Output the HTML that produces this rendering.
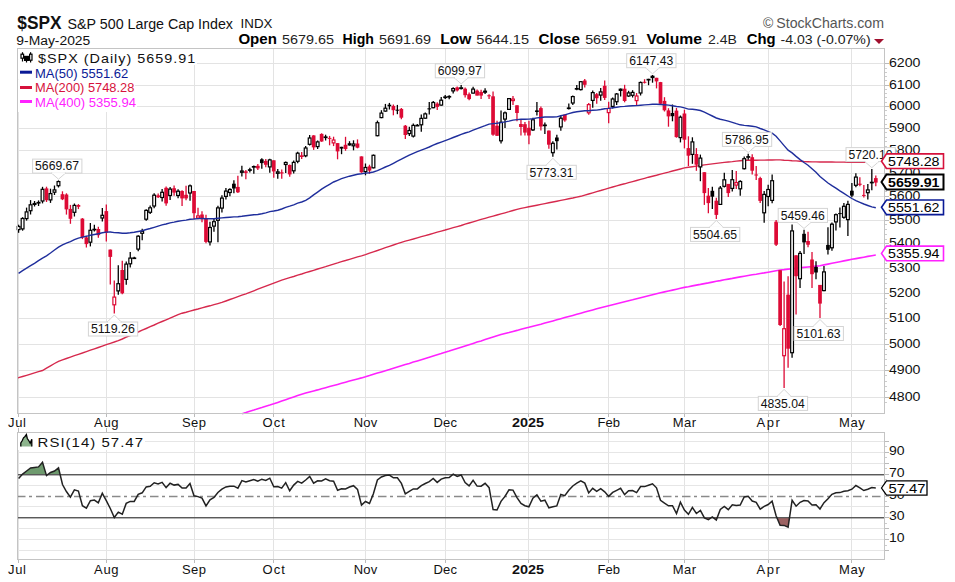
<!DOCTYPE html>
<html><head><meta charset="utf-8"><style>
html,body{margin:0;padding:0;background:#fff;width:955px;height:582px;overflow:hidden}
svg{position:absolute;left:0;top:0}
.ax{font-family:"Liberation Sans",sans-serif;font-size:13px;fill:#111}
.axb{font-family:"Liberation Sans",sans-serif;font-size:13px;font-weight:bold;fill:#111}
</style></head><body>
<svg width="955" height="582" viewBox="0 0 955 582">
<line x1="17" y1="397.5" x2="884" y2="397.5" stroke="#e3e3e3"/>
<line x1="884" y1="397.5" x2="889" y2="397.5" stroke="#bbb"/>
<text x="889" y="400.6" class="ax" font-size="12.3" textLength="31.5" lengthAdjust="spacingAndGlyphs">4800</text>
<line x1="17" y1="370.5" x2="884" y2="370.5" stroke="#e3e3e3"/>
<line x1="884" y1="370.5" x2="889" y2="370.5" stroke="#bbb"/>
<text x="889" y="373.6" class="ax" font-size="12.3" textLength="31.5" lengthAdjust="spacingAndGlyphs">4900</text>
<line x1="17" y1="344.5" x2="884" y2="344.5" stroke="#e3e3e3"/>
<line x1="884" y1="344.5" x2="889" y2="344.5" stroke="#bbb"/>
<text x="889" y="347.6" class="ax" font-size="12.3" textLength="31.5" lengthAdjust="spacingAndGlyphs">5000</text>
<line x1="17" y1="318.5" x2="884" y2="318.5" stroke="#e3e3e3"/>
<line x1="884" y1="318.5" x2="889" y2="318.5" stroke="#bbb"/>
<text x="889" y="321.6" class="ax" font-size="12.3" textLength="31.5" lengthAdjust="spacingAndGlyphs">5100</text>
<line x1="17" y1="293.5" x2="884" y2="293.5" stroke="#e3e3e3"/>
<line x1="884" y1="293.5" x2="889" y2="293.5" stroke="#bbb"/>
<text x="889" y="296.6" class="ax" font-size="12.3" textLength="31.5" lengthAdjust="spacingAndGlyphs">5200</text>
<line x1="17" y1="268.5" x2="884" y2="268.5" stroke="#e3e3e3"/>
<line x1="884" y1="268.5" x2="889" y2="268.5" stroke="#bbb"/>
<text x="889" y="271.6" class="ax" font-size="12.3" textLength="31.5" lengthAdjust="spacingAndGlyphs">5300</text>
<line x1="17" y1="243.5" x2="884" y2="243.5" stroke="#e3e3e3"/>
<line x1="884" y1="243.5" x2="889" y2="243.5" stroke="#bbb"/>
<text x="889" y="246.6" class="ax" font-size="12.3" textLength="31.5" lengthAdjust="spacingAndGlyphs">5400</text>
<line x1="17" y1="220.5" x2="884" y2="220.5" stroke="#e3e3e3"/>
<line x1="884" y1="220.5" x2="889" y2="220.5" stroke="#bbb"/>
<text x="889" y="223.6" class="ax" font-size="12.3" textLength="31.5" lengthAdjust="spacingAndGlyphs">5500</text>
<line x1="17" y1="196.5" x2="884" y2="196.5" stroke="#e3e3e3"/>
<line x1="884" y1="196.5" x2="889" y2="196.5" stroke="#bbb"/>
<text x="889" y="199.6" class="ax" font-size="12.3" textLength="31.5" lengthAdjust="spacingAndGlyphs">5600</text>
<line x1="17" y1="173.5" x2="884" y2="173.5" stroke="#e3e3e3"/>
<line x1="884" y1="173.5" x2="889" y2="173.5" stroke="#bbb"/>
<text x="889" y="176.6" class="ax" font-size="12.3" textLength="31.5" lengthAdjust="spacingAndGlyphs">5700</text>
<line x1="17" y1="150.5" x2="884" y2="150.5" stroke="#e3e3e3"/>
<line x1="884" y1="150.5" x2="889" y2="150.5" stroke="#bbb"/>
<text x="889" y="153.6" class="ax" font-size="12.3" textLength="31.5" lengthAdjust="spacingAndGlyphs">5800</text>
<line x1="17" y1="128.5" x2="884" y2="128.5" stroke="#e3e3e3"/>
<line x1="884" y1="128.5" x2="889" y2="128.5" stroke="#bbb"/>
<text x="889" y="131.6" class="ax" font-size="12.3" textLength="31.5" lengthAdjust="spacingAndGlyphs">5900</text>
<line x1="17" y1="106.5" x2="884" y2="106.5" stroke="#e3e3e3"/>
<line x1="884" y1="106.5" x2="889" y2="106.5" stroke="#bbb"/>
<text x="889" y="109.6" class="ax" font-size="12.3" textLength="31.5" lengthAdjust="spacingAndGlyphs">6000</text>
<line x1="17" y1="85.5" x2="884" y2="85.5" stroke="#e3e3e3"/>
<line x1="884" y1="85.5" x2="889" y2="85.5" stroke="#bbb"/>
<text x="889" y="88.6" class="ax" font-size="12.3" textLength="31.5" lengthAdjust="spacingAndGlyphs">6100</text>
<line x1="17" y1="63.5" x2="884" y2="63.5" stroke="#e3e3e3"/>
<line x1="884" y1="63.5" x2="889" y2="63.5" stroke="#bbb"/>
<text x="889" y="66.6" class="ax" font-size="12.3" textLength="31.5" lengthAdjust="spacingAndGlyphs">6200</text>
<line x1="884" y1="402.5" x2="887" y2="402.5" stroke="#ccc"/>
<line x1="884" y1="391.5" x2="887" y2="391.5" stroke="#ccc"/>
<line x1="884" y1="386.5" x2="887" y2="386.5" stroke="#ccc"/>
<line x1="884" y1="381.5" x2="887" y2="381.5" stroke="#ccc"/>
<line x1="884" y1="375.5" x2="887" y2="375.5" stroke="#ccc"/>
<line x1="884" y1="365.5" x2="887" y2="365.5" stroke="#ccc"/>
<line x1="884" y1="359.5" x2="887" y2="359.5" stroke="#ccc"/>
<line x1="884" y1="354.5" x2="887" y2="354.5" stroke="#ccc"/>
<line x1="884" y1="349.5" x2="887" y2="349.5" stroke="#ccc"/>
<line x1="884" y1="339.5" x2="887" y2="339.5" stroke="#ccc"/>
<line x1="884" y1="333.5" x2="887" y2="333.5" stroke="#ccc"/>
<line x1="884" y1="328.5" x2="887" y2="328.5" stroke="#ccc"/>
<line x1="884" y1="323.5" x2="887" y2="323.5" stroke="#ccc"/>
<line x1="884" y1="313.5" x2="887" y2="313.5" stroke="#ccc"/>
<line x1="884" y1="308.5" x2="887" y2="308.5" stroke="#ccc"/>
<line x1="884" y1="303.5" x2="887" y2="303.5" stroke="#ccc"/>
<line x1="884" y1="298.5" x2="887" y2="298.5" stroke="#ccc"/>
<line x1="884" y1="288.5" x2="887" y2="288.5" stroke="#ccc"/>
<line x1="884" y1="283.5" x2="887" y2="283.5" stroke="#ccc"/>
<line x1="884" y1="278.5" x2="887" y2="278.5" stroke="#ccc"/>
<line x1="884" y1="273.5" x2="887" y2="273.5" stroke="#ccc"/>
<line x1="884" y1="263.5" x2="887" y2="263.5" stroke="#ccc"/>
<line x1="884" y1="258.5" x2="887" y2="258.5" stroke="#ccc"/>
<line x1="884" y1="253.5" x2="887" y2="253.5" stroke="#ccc"/>
<line x1="884" y1="248.5" x2="887" y2="248.5" stroke="#ccc"/>
<line x1="884" y1="239.5" x2="887" y2="239.5" stroke="#ccc"/>
<line x1="884" y1="234.5" x2="887" y2="234.5" stroke="#ccc"/>
<line x1="884" y1="229.5" x2="887" y2="229.5" stroke="#ccc"/>
<line x1="884" y1="224.5" x2="887" y2="224.5" stroke="#ccc"/>
<line x1="884" y1="215.5" x2="887" y2="215.5" stroke="#ccc"/>
<line x1="884" y1="210.5" x2="887" y2="210.5" stroke="#ccc"/>
<line x1="884" y1="205.5" x2="887" y2="205.5" stroke="#ccc"/>
<line x1="884" y1="201.5" x2="887" y2="201.5" stroke="#ccc"/>
<line x1="884" y1="191.5" x2="887" y2="191.5" stroke="#ccc"/>
<line x1="884" y1="187.5" x2="887" y2="187.5" stroke="#ccc"/>
<line x1="884" y1="182.5" x2="887" y2="182.5" stroke="#ccc"/>
<line x1="884" y1="178.5" x2="887" y2="178.5" stroke="#ccc"/>
<line x1="884" y1="168.5" x2="887" y2="168.5" stroke="#ccc"/>
<line x1="884" y1="164.5" x2="887" y2="164.5" stroke="#ccc"/>
<line x1="884" y1="159.5" x2="887" y2="159.5" stroke="#ccc"/>
<line x1="884" y1="155.5" x2="887" y2="155.5" stroke="#ccc"/>
<line x1="884" y1="146.5" x2="887" y2="146.5" stroke="#ccc"/>
<line x1="884" y1="141.5" x2="887" y2="141.5" stroke="#ccc"/>
<line x1="884" y1="137.5" x2="887" y2="137.5" stroke="#ccc"/>
<line x1="884" y1="132.5" x2="887" y2="132.5" stroke="#ccc"/>
<line x1="884" y1="124.5" x2="887" y2="124.5" stroke="#ccc"/>
<line x1="884" y1="119.5" x2="887" y2="119.5" stroke="#ccc"/>
<line x1="884" y1="115.5" x2="887" y2="115.5" stroke="#ccc"/>
<line x1="884" y1="110.5" x2="887" y2="110.5" stroke="#ccc"/>
<line x1="884" y1="102.5" x2="887" y2="102.5" stroke="#ccc"/>
<line x1="884" y1="97.5" x2="887" y2="97.5" stroke="#ccc"/>
<line x1="884" y1="93.5" x2="887" y2="93.5" stroke="#ccc"/>
<line x1="884" y1="89.5" x2="887" y2="89.5" stroke="#ccc"/>
<line x1="884" y1="80.5" x2="887" y2="80.5" stroke="#ccc"/>
<line x1="884" y1="76.5" x2="887" y2="76.5" stroke="#ccc"/>
<line x1="884" y1="72.5" x2="887" y2="72.5" stroke="#ccc"/>
<line x1="884" y1="68.5" x2="887" y2="68.5" stroke="#ccc"/>
<line x1="18.5" y1="48" x2="18.5" y2="413" stroke="#e3e3e3"/>
<line x1="18.5" y1="413" x2="18.5" y2="417" stroke="#bbb"/>
<line x1="18.5" y1="559" x2="18.5" y2="563" stroke="#bbb"/>
<line x1="18.5" y1="428" x2="18.5" y2="432" stroke="#bbb"/>
<text x="8.1" y="427.3" class="ax" font-size="11.8" textLength="17.8" lengthAdjust="spacing">Jul</text>
<text x="8.1" y="573.8" class="ax" font-size="11.8" textLength="17.8" lengthAdjust="spacing">Jul</text>
<line x1="18.5" y1="432" x2="18.5" y2="559" stroke="#e3e3e3"/>
<line x1="106.5" y1="48" x2="106.5" y2="413" stroke="#e3e3e3"/>
<line x1="106.5" y1="413" x2="106.5" y2="417" stroke="#bbb"/>
<line x1="106.5" y1="559" x2="106.5" y2="563" stroke="#bbb"/>
<line x1="106.5" y1="428" x2="106.5" y2="432" stroke="#bbb"/>
<text x="94.0" y="427.3" class="ax" font-size="11.8" textLength="24.6" lengthAdjust="spacing">Aug</text>
<text x="94.0" y="573.8" class="ax" font-size="11.8" textLength="24.6" lengthAdjust="spacing">Aug</text>
<line x1="106.5" y1="432" x2="106.5" y2="559" stroke="#e3e3e3"/>
<line x1="194.5" y1="48" x2="194.5" y2="413" stroke="#e3e3e3"/>
<line x1="194.5" y1="413" x2="194.5" y2="417" stroke="#bbb"/>
<line x1="194.5" y1="559" x2="194.5" y2="563" stroke="#bbb"/>
<line x1="194.5" y1="428" x2="194.5" y2="432" stroke="#bbb"/>
<text x="182.1" y="427.3" class="ax" font-size="11.8" textLength="23.8" lengthAdjust="spacing">Sep</text>
<text x="182.1" y="573.8" class="ax" font-size="11.8" textLength="23.8" lengthAdjust="spacing">Sep</text>
<line x1="194.5" y1="432" x2="194.5" y2="559" stroke="#e3e3e3"/>
<line x1="273.5" y1="48" x2="273.5" y2="413" stroke="#e3e3e3"/>
<line x1="273.5" y1="413" x2="273.5" y2="417" stroke="#bbb"/>
<line x1="273.5" y1="559" x2="273.5" y2="563" stroke="#bbb"/>
<line x1="273.5" y1="428" x2="273.5" y2="432" stroke="#bbb"/>
<text x="262.6" y="427.3" class="ax" font-size="11.8" textLength="22.3" lengthAdjust="spacing">Oct</text>
<text x="262.6" y="573.8" class="ax" font-size="11.8" textLength="22.3" lengthAdjust="spacing">Oct</text>
<line x1="273.5" y1="432" x2="273.5" y2="559" stroke="#e3e3e3"/>
<line x1="365.5" y1="48" x2="365.5" y2="413" stroke="#e3e3e3"/>
<line x1="365.5" y1="413" x2="365.5" y2="417" stroke="#bbb"/>
<line x1="365.5" y1="559" x2="365.5" y2="563" stroke="#bbb"/>
<line x1="365.5" y1="428" x2="365.5" y2="432" stroke="#bbb"/>
<text x="353.7" y="427.3" class="ax" font-size="11.8" textLength="23.5" lengthAdjust="spacing">Nov</text>
<text x="353.7" y="573.8" class="ax" font-size="11.8" textLength="23.5" lengthAdjust="spacing">Nov</text>
<line x1="365.5" y1="432" x2="365.5" y2="559" stroke="#e3e3e3"/>
<line x1="445.5" y1="48" x2="445.5" y2="413" stroke="#e3e3e3"/>
<line x1="445.5" y1="413" x2="445.5" y2="417" stroke="#bbb"/>
<line x1="445.5" y1="559" x2="445.5" y2="563" stroke="#bbb"/>
<line x1="445.5" y1="428" x2="445.5" y2="432" stroke="#bbb"/>
<text x="433.6" y="427.3" class="ax" font-size="11.8" textLength="23.3" lengthAdjust="spacing">Dec</text>
<text x="433.6" y="573.8" class="ax" font-size="11.8" textLength="23.3" lengthAdjust="spacing">Dec</text>
<line x1="445.5" y1="432" x2="445.5" y2="559" stroke="#e3e3e3"/>
<line x1="528.5" y1="48" x2="528.5" y2="413" stroke="#e3e3e3"/>
<line x1="528.5" y1="413" x2="528.5" y2="417" stroke="#bbb"/>
<line x1="528.5" y1="559" x2="528.5" y2="563" stroke="#bbb"/>
<line x1="528.5" y1="428" x2="528.5" y2="432" stroke="#bbb"/>
<text x="511.9" y="427.3" class="axb" font-size="14.3" textLength="32.1" lengthAdjust="spacingAndGlyphs">2025</text>
<text x="511.9" y="573.8" class="axb" font-size="14.3" textLength="32.1" lengthAdjust="spacingAndGlyphs">2025</text>
<line x1="528.5" y1="432" x2="528.5" y2="559" stroke="#e3e3e3"/>
<line x1="608.5" y1="48" x2="608.5" y2="413" stroke="#e3e3e3"/>
<line x1="608.5" y1="413" x2="608.5" y2="417" stroke="#bbb"/>
<line x1="608.5" y1="559" x2="608.5" y2="563" stroke="#bbb"/>
<line x1="608.5" y1="428" x2="608.5" y2="432" stroke="#bbb"/>
<text x="597.4" y="427.3" class="ax" font-size="11.8" textLength="22.5" lengthAdjust="spacing">Feb</text>
<text x="597.4" y="573.8" class="ax" font-size="11.8" textLength="22.5" lengthAdjust="spacing">Feb</text>
<line x1="608.5" y1="432" x2="608.5" y2="559" stroke="#e3e3e3"/>
<line x1="684.5" y1="48" x2="684.5" y2="413" stroke="#e3e3e3"/>
<line x1="684.5" y1="413" x2="684.5" y2="417" stroke="#bbb"/>
<line x1="684.5" y1="559" x2="684.5" y2="563" stroke="#bbb"/>
<line x1="684.5" y1="428" x2="684.5" y2="432" stroke="#bbb"/>
<text x="672.7" y="427.3" class="ax" font-size="11.8" textLength="23.5" lengthAdjust="spacing">Mar</text>
<text x="672.7" y="573.8" class="ax" font-size="11.8" textLength="23.5" lengthAdjust="spacing">Mar</text>
<line x1="684.5" y1="432" x2="684.5" y2="559" stroke="#e3e3e3"/>
<line x1="768.5" y1="48" x2="768.5" y2="413" stroke="#e3e3e3"/>
<line x1="768.5" y1="413" x2="768.5" y2="417" stroke="#bbb"/>
<line x1="768.5" y1="559" x2="768.5" y2="563" stroke="#bbb"/>
<line x1="768.5" y1="428" x2="768.5" y2="432" stroke="#bbb"/>
<text x="756.4" y="427.3" class="ax" font-size="11.8" textLength="23.5" lengthAdjust="spacing">Apr</text>
<text x="756.4" y="573.8" class="ax" font-size="11.8" textLength="23.5" lengthAdjust="spacing">Apr</text>
<line x1="768.5" y1="432" x2="768.5" y2="559" stroke="#e3e3e3"/>
<line x1="851.5" y1="48" x2="851.5" y2="413" stroke="#e3e3e3"/>
<line x1="851.5" y1="413" x2="851.5" y2="417" stroke="#bbb"/>
<line x1="851.5" y1="559" x2="851.5" y2="563" stroke="#bbb"/>
<line x1="851.5" y1="428" x2="851.5" y2="432" stroke="#bbb"/>
<text x="839.0" y="427.3" class="ax" font-size="11.8" textLength="25.7" lengthAdjust="spacing">May</text>
<text x="839.0" y="573.8" class="ax" font-size="11.8" textLength="25.7" lengthAdjust="spacing">May</text>
<line x1="851.5" y1="432" x2="851.5" y2="559" stroke="#e3e3e3"/>
<line x1="17" y1="550.5" x2="884" y2="550.5" stroke="#e6e6e6"/>
<line x1="884" y1="550.5" x2="889" y2="550.5" stroke="#bbb"/>
<line x1="17" y1="539.5" x2="884" y2="539.5" stroke="#e6e6e6"/>
<line x1="884" y1="539.5" x2="889" y2="539.5" stroke="#bbb"/>
<line x1="17" y1="528.5" x2="884" y2="528.5" stroke="#e6e6e6"/>
<line x1="884" y1="528.5" x2="889" y2="528.5" stroke="#bbb"/>
<line x1="17" y1="517.5" x2="884" y2="517.5" stroke="#5a5a5a" stroke-width="1.25"/>
<line x1="884" y1="517.5" x2="889" y2="517.5" stroke="#bbb"/>
<line x1="17" y1="506.5" x2="884" y2="506.5" stroke="#e6e6e6"/>
<line x1="884" y1="506.5" x2="889" y2="506.5" stroke="#bbb"/>
<line x1="17" y1="496.5" x2="884" y2="496.5" stroke="#8a8a8a" stroke-width="1.5" stroke-dasharray="8.5,3.5,3,4"/>
<line x1="884" y1="496.5" x2="889" y2="496.5" stroke="#bbb"/>
<line x1="17" y1="485.5" x2="884" y2="485.5" stroke="#e6e6e6"/>
<line x1="884" y1="485.5" x2="889" y2="485.5" stroke="#bbb"/>
<line x1="17" y1="474.5" x2="884" y2="474.5" stroke="#5a5a5a" stroke-width="1.25"/>
<line x1="884" y1="474.5" x2="889" y2="474.5" stroke="#bbb"/>
<line x1="17" y1="463.5" x2="884" y2="463.5" stroke="#e6e6e6"/>
<line x1="884" y1="463.5" x2="889" y2="463.5" stroke="#bbb"/>
<line x1="17" y1="452.5" x2="884" y2="452.5" stroke="#e6e6e6"/>
<line x1="884" y1="452.5" x2="889" y2="452.5" stroke="#bbb"/>
<line x1="17" y1="441.5" x2="884" y2="441.5" stroke="#e6e6e6"/>
<line x1="884" y1="441.5" x2="889" y2="441.5" stroke="#bbb"/>
<line x1="884" y1="545.5" x2="887" y2="545.5" stroke="#ccc"/>
<line x1="884" y1="534.5" x2="887" y2="534.5" stroke="#ccc"/>
<line x1="884" y1="523.5" x2="887" y2="523.5" stroke="#ccc"/>
<line x1="884" y1="512.5" x2="887" y2="512.5" stroke="#ccc"/>
<line x1="884" y1="501.5" x2="887" y2="501.5" stroke="#ccc"/>
<line x1="884" y1="490.5" x2="887" y2="490.5" stroke="#ccc"/>
<line x1="884" y1="479.5" x2="887" y2="479.5" stroke="#ccc"/>
<line x1="884" y1="468.5" x2="887" y2="468.5" stroke="#ccc"/>
<line x1="884" y1="457.5" x2="887" y2="457.5" stroke="#ccc"/>
<line x1="884" y1="446.5" x2="887" y2="446.5" stroke="#ccc"/>
<text x="889" y="455.1" class="ax" font-size="12.3" textLength="15.6" lengthAdjust="spacingAndGlyphs">90</text>
<text x="889" y="477.1" class="ax" font-size="12.3" textLength="15.6" lengthAdjust="spacingAndGlyphs">70</text>
<text x="889" y="520.1" class="ax" font-size="12.3" textLength="15.6" lengthAdjust="spacingAndGlyphs">30</text>
<text x="889" y="542.1" class="ax" font-size="12.3" textLength="15.6" lengthAdjust="spacingAndGlyphs">10</text>
<text x="889" y="499.1" class="ax" font-size="12.3" textLength="15.6" lengthAdjust="spacingAndGlyphs">50</text>
<polyline points="242.2,413.7 245.9,412.6 249.8,411.3 253.8,410.1 257.8,408.8 261.8,407.6 265.8,406.3 269.8,405.1 273.8,403.8 277.8,402.4 281.7,401.1 285.7,399.7 289.7,398.3 293.7,396.9 297.7,395.5 301.7,394.2 305.7,393.1 309.7,392.0 313.6,390.9 317.6,389.9 321.6,388.8 325.6,387.7 329.6,386.6 333.6,385.5 337.6,384.4 341.5,383.3 345.5,382.2 349.5,381.1 353.5,380.0 357.5,378.9 361.5,377.9 365.5,376.8 369.5,375.6 373.4,374.3 377.4,373.1 381.4,371.9 385.4,370.7 389.4,369.5 393.4,368.2 397.4,367.0 401.4,365.8 405.3,364.6 409.3,363.4 413.3,362.1 417.3,360.9 421.3,359.7 425.3,358.5 429.3,357.3 433.2,356.1 437.2,354.8 441.2,353.6 445.2,352.3 449.2,351.1 453.2,349.8 457.2,348.5 461.2,347.2 465.1,346.0 469.1,344.7 473.1,343.4 477.1,342.1 481.1,340.9 485.1,339.6 489.1,338.3 493.1,337.0 497.0,335.7 501.0,334.5 505.0,333.5 509.0,332.5 513.0,331.4 517.0,330.4 521.0,329.3 524.9,328.3 528.9,327.3 532.9,326.2 536.9,325.2 540.9,324.2 544.9,323.1 548.9,322.0 552.9,320.9 556.8,319.8 560.8,318.7 564.8,317.6 568.8,316.5 572.8,315.4 576.8,314.3 580.8,313.2 584.8,312.1 588.7,311.0 592.7,309.9 596.7,308.8 600.7,307.7 604.7,306.7 608.7,305.7 612.7,304.7 616.7,303.7 620.6,302.7 624.6,301.7 628.6,300.7 632.6,299.8 636.6,298.8 640.6,297.8 644.6,296.8 648.5,295.8 652.5,294.8 656.5,293.8 660.5,292.8 664.5,291.9 668.5,291.0 672.5,290.1 676.5,289.2 680.4,288.3 684.4,287.4 688.4,286.7 692.4,285.9 696.4,285.1 700.4,284.4 704.4,283.6 708.4,282.9 712.3,282.1 716.3,281.3 720.3,280.6 724.3,279.8 728.3,279.1 732.3,278.4 736.3,277.6 740.2,276.9 744.2,276.2 748.2,275.5 752.2,274.8 756.2,274.2 760.2,273.5 764.2,272.9 768.2,272.2 772.1,271.5 776.1,270.7 780.1,270.0 784.1,269.6 788.1,269.1 792.1,268.7 796.1,268.3 800.1,267.8 804.0,267.4 808.0,267.0 812.0,266.6 816.0,266.1 820.0,265.7 824.0,264.9 828.0,264.1 831.9,263.3 835.9,262.5 839.9,261.7 843.9,260.9 847.9,260.1 851.9,259.3 855.9,258.6 859.9,257.9 863.8,257.2 867.8,256.4 871.8,255.7 875.8,255.0" fill="none" stroke="#ff22ff" stroke-width="1.6"/>
<polyline points="17.5,378.0 18.6,377.7 22.6,376.5 26.6,375.3 30.6,374.1 34.5,372.9 38.5,371.7 42.5,370.5 46.5,368.2 50.5,365.9 54.5,363.5 58.5,361.3 62.5,359.9 66.4,358.5 70.4,357.1 74.4,355.7 78.4,354.3 82.4,353.0 86.4,351.6 90.4,350.2 94.4,348.8 98.3,347.5 102.3,346.1 106.3,344.7 110.3,343.3 114.3,342.0 118.3,340.6 122.3,339.0 126.2,337.2 130.2,335.5 134.2,333.7 138.2,332.0 142.2,330.2 146.2,328.5 150.2,326.7 154.2,325.0 158.1,323.2 162.1,321.5 166.1,319.8 170.1,318.1 174.1,316.3 178.1,314.6 182.1,313.2 186.1,312.2 190.0,311.1 194.0,310.0 198.0,309.0 202.0,307.9 206.0,306.8 210.0,305.8 214.0,304.7 217.9,303.6 221.9,302.4 225.9,301.0 229.9,299.5 233.9,298.1 237.9,296.7 241.9,295.2 245.9,293.8 249.8,292.3 253.8,290.8 257.8,289.2 261.8,287.7 265.8,286.2 269.8,284.6 273.8,283.1 277.8,281.6 281.7,280.2 285.7,278.9 289.7,277.7 293.7,276.5 297.7,275.2 301.7,274.0 305.7,272.7 309.7,271.5 313.6,270.3 317.6,269.0 321.6,267.8 325.6,266.6 329.6,265.3 333.6,264.1 337.6,262.9 341.5,261.6 345.5,260.5 349.5,259.3 353.5,258.1 357.5,256.9 361.5,255.8 365.5,254.6 369.5,253.2 373.4,251.8 377.4,250.5 381.4,249.1 385.4,247.7 389.4,246.3 393.4,245.0 397.4,243.6 401.4,242.3 405.3,241.2 409.3,240.1 413.3,239.0 417.3,237.8 421.3,236.7 425.3,235.6 429.3,234.5 433.2,233.3 437.2,232.2 441.2,231.1 445.2,230.0 449.2,228.8 453.2,227.7 457.2,226.6 461.2,225.5 465.1,224.2 469.1,223.0 473.1,221.8 477.1,220.6 481.1,219.4 485.1,218.3 489.1,217.2 493.1,216.1 497.0,215.0 501.0,213.9 505.0,212.8 509.0,211.7 513.0,210.5 517.0,209.4 521.0,208.4 524.9,207.6 528.9,206.8 532.9,206.0 536.9,205.2 540.9,204.4 544.9,203.6 548.9,202.8 552.9,202.0 556.8,201.2 560.8,200.4 564.8,199.6 568.8,198.8 572.8,198.0 576.8,197.1 580.8,196.3 584.8,195.1 588.7,194.0 592.7,192.8 596.7,191.6 600.7,190.5 604.7,189.3 608.7,188.1 612.7,187.0 616.7,185.9 620.6,184.8 624.6,183.8 628.6,182.7 632.6,181.6 636.6,180.5 640.6,179.4 644.6,178.3 648.5,177.2 652.5,176.2 656.5,175.2 660.5,174.1 664.5,173.1 668.5,172.1 672.5,171.0 676.5,170.0 680.4,169.0 684.4,167.9 688.4,167.3 692.4,166.7 696.4,166.1 700.4,165.5 704.4,164.9 708.4,164.4 712.3,163.9 716.3,163.4 720.3,162.9 724.3,162.4 728.3,162.0 732.3,161.6 736.3,161.1 740.2,160.7 744.2,160.3 748.2,160.3 752.2,160.2 756.2,160.2 760.2,160.1 764.2,160.1 768.2,160.0 772.1,160.0 776.1,159.9 780.1,159.9 784.1,160.2 788.1,160.4 792.1,160.7 796.1,160.9 800.1,161.2 804.0,161.5 808.0,161.7 812.0,161.9 816.0,161.9 820.0,162.0 824.0,162.0 828.0,162.0 831.9,162.0 835.9,162.1 839.9,162.1 843.9,162.1 847.9,162.2 851.9,162.2 855.9,162.2 859.9,162.2 863.8,162.3 867.8,162.3 871.8,162.4 875.8,162.5" fill="none" stroke="#d6294d" stroke-width="1.4"/>
<line x1="18.60" y1="224.7" x2="18.60" y2="232.8" stroke="#000" stroke-width="1.3"/>
<rect x="17.20" y="226.5" width="2.8" height="3.1" fill="#fff" stroke="#000" stroke-width="1.2"/>
<line x1="22.59" y1="217.2" x2="22.59" y2="230.7" stroke="#000" stroke-width="1.3"/>
<rect x="21.19" y="218.5" width="2.8" height="10.4" fill="#fff" stroke="#000" stroke-width="1.2"/>
<line x1="26.57" y1="207.6" x2="26.57" y2="220.6" stroke="#000" stroke-width="1.3"/>
<rect x="25.17" y="211.9" width="2.8" height="6.7" fill="#fff" stroke="#000" stroke-width="1.2"/>
<line x1="30.56" y1="200.1" x2="30.56" y2="214.5" stroke="#000" stroke-width="1.3"/>
<rect x="29.16" y="204.8" width="2.8" height="5.9" fill="#fff" stroke="#000" stroke-width="1.2"/>
<line x1="34.55" y1="201.0" x2="34.55" y2="206.5" stroke="#000" stroke-width="1.3"/>
<rect x="33.15" y="203.5" width="2.8" height="0.9" fill="#fff" stroke="#000" stroke-width="1.2"/>
<line x1="38.54" y1="200.4" x2="38.54" y2="206.0" stroke="#000" stroke-width="1.3"/>
<rect x="37.14" y="202.5" width="2.8" height="0.5" fill="#fff" stroke="#000" stroke-width="1.2"/>
<line x1="42.52" y1="186.8" x2="42.52" y2="203.4" stroke="#000" stroke-width="1.3"/>
<rect x="41.12" y="189.3" width="2.8" height="11.7" fill="#fff" stroke="#000" stroke-width="1.2"/>
<line x1="46.51" y1="186.7" x2="46.51" y2="202.0" stroke="#dd0a35" stroke-width="1.3"/>
<rect x="44.66" y="188.4" width="3.7" height="11.8" fill="#dd0a35"/>
<line x1="50.50" y1="188.7" x2="50.50" y2="202.9" stroke="#000" stroke-width="1.3"/>
<rect x="49.10" y="193.6" width="2.8" height="6.3" fill="#fff" stroke="#000" stroke-width="1.2"/>
<line x1="54.48" y1="185.5" x2="54.48" y2="195.0" stroke="#000" stroke-width="1.3"/>
<rect x="53.08" y="189.9" width="2.8" height="2.3" fill="#fff" stroke="#000" stroke-width="1.2"/>
<line x1="58.47" y1="180.4" x2="58.47" y2="187.5" stroke="#000" stroke-width="1.3"/>
<rect x="57.07" y="181.6" width="2.8" height="4.1" fill="#fff" stroke="#000" stroke-width="1.2"/>
<line x1="62.46" y1="191.3" x2="62.46" y2="200.1" stroke="#dd0a35" stroke-width="1.3"/>
<rect x="60.61" y="194.2" width="3.7" height="5.1" fill="#dd0a35"/>
<line x1="66.44" y1="193.3" x2="66.44" y2="214.6" stroke="#dd0a35" stroke-width="1.3"/>
<rect x="64.59" y="194.5" width="3.7" height="14.9" fill="#dd0a35"/>
<line x1="70.43" y1="204.9" x2="70.43" y2="223.8" stroke="#dd0a35" stroke-width="1.3"/>
<rect x="68.58" y="208.9" width="3.7" height="9.9" fill="#dd0a35"/>
<line x1="74.42" y1="203.5" x2="74.42" y2="216.5" stroke="#000" stroke-width="1.3"/>
<rect x="73.02" y="205.4" width="2.8" height="6.9" fill="#fff" stroke="#000" stroke-width="1.2"/>
<line x1="78.41" y1="204.1" x2="78.41" y2="209.1" stroke="#dd0a35" stroke-width="1.3"/>
<rect x="76.56" y="205.0" width="3.7" height="1.8" fill="#dd0a35"/>
<line x1="82.39" y1="218.1" x2="82.39" y2="239.1" stroke="#dd0a35" stroke-width="1.3"/>
<rect x="80.54" y="218.6" width="3.7" height="18.8" fill="#dd0a35"/>
<line x1="86.38" y1="235.7" x2="86.38" y2="247.5" stroke="#dd0a35" stroke-width="1.3"/>
<rect x="84.53" y="237.4" width="3.7" height="6.7" fill="#dd0a35"/>
<line x1="90.37" y1="223.0" x2="90.37" y2="246.4" stroke="#000" stroke-width="1.3"/>
<rect x="88.97" y="230.3" width="2.8" height="11.9" fill="#fff" stroke="#000" stroke-width="1.2"/>
<line x1="94.35" y1="224.7" x2="94.35" y2="231.5" stroke="#000" stroke-width="1.3"/>
<rect x="92.95" y="229.3" width="2.8" height="0.5" fill="#fff" stroke="#000" stroke-width="1.2"/>
<line x1="98.34" y1="226.8" x2="98.34" y2="237.7" stroke="#dd0a35" stroke-width="1.3"/>
<rect x="96.49" y="229.0" width="3.7" height="6.2" fill="#dd0a35"/>
<line x1="102.33" y1="207.9" x2="102.33" y2="221.5" stroke="#000" stroke-width="1.3"/>
<rect x="100.93" y="215.3" width="2.8" height="2.7" fill="#fff" stroke="#000" stroke-width="1.2"/>
<line x1="106.31" y1="204.4" x2="106.31" y2="241.4" stroke="#dd0a35" stroke-width="1.3"/>
<rect x="104.46" y="211.1" width="3.7" height="21.6" fill="#dd0a35"/>
<line x1="110.30" y1="249.6" x2="110.30" y2="284.5" stroke="#dd0a35" stroke-width="1.3"/>
<rect x="108.45" y="249.6" width="3.7" height="7.3" fill="#dd0a35"/>
<line x1="114.29" y1="280.4" x2="114.29" y2="313.5" stroke="#dd0a35" stroke-width="1.3"/>
<rect x="112.89" y="297.1" width="2.8" height="7.7" fill="#fff" stroke="#dd0a35" stroke-width="1.2"/>
<line x1="118.28" y1="265.3" x2="118.28" y2="294.7" stroke="#000" stroke-width="1.3"/>
<rect x="116.88" y="283.7" width="2.8" height="7.2" fill="#fff" stroke="#000" stroke-width="1.2"/>
<line x1="122.26" y1="260.8" x2="122.26" y2="294.2" stroke="#dd0a35" stroke-width="1.3"/>
<rect x="120.41" y="270.0" width="3.7" height="23.3" fill="#dd0a35"/>
<line x1="126.25" y1="261.4" x2="126.25" y2="284.7" stroke="#000" stroke-width="1.3"/>
<rect x="124.85" y="264.1" width="2.8" height="15.3" fill="#fff" stroke="#000" stroke-width="1.2"/>
<line x1="130.24" y1="252.1" x2="130.24" y2="267.6" stroke="#000" stroke-width="1.3"/>
<rect x="128.84" y="258.1" width="2.8" height="5.7" fill="#fff" stroke="#000" stroke-width="1.2"/>
<line x1="134.22" y1="256.7" x2="134.22" y2="259.0" stroke="#000" stroke-width="1.3"/>
<rect x="132.82" y="258.0" width="2.8" height="0.5" fill="#fff" stroke="#000" stroke-width="1.2"/>
<line x1="138.21" y1="235.3" x2="138.21" y2="251.2" stroke="#000" stroke-width="1.3"/>
<rect x="136.81" y="236.2" width="2.8" height="12.9" fill="#fff" stroke="#000" stroke-width="1.2"/>
<line x1="142.20" y1="228.8" x2="142.20" y2="240.3" stroke="#000" stroke-width="1.3"/>
<rect x="140.80" y="231.3" width="2.8" height="2.0" fill="#fff" stroke="#000" stroke-width="1.2"/>
<line x1="146.18" y1="209.2" x2="146.18" y2="220.7" stroke="#000" stroke-width="1.3"/>
<rect x="144.78" y="210.4" width="2.8" height="8.8" fill="#fff" stroke="#000" stroke-width="1.2"/>
<line x1="150.17" y1="205.6" x2="150.17" y2="214.1" stroke="#000" stroke-width="1.3"/>
<rect x="148.77" y="207.8" width="2.8" height="4.5" fill="#fff" stroke="#000" stroke-width="1.2"/>
<line x1="154.16" y1="193.3" x2="154.16" y2="208.2" stroke="#000" stroke-width="1.3"/>
<rect x="152.76" y="195.2" width="2.8" height="10.8" fill="#fff" stroke="#000" stroke-width="1.2"/>
<line x1="158.15" y1="193.6" x2="158.15" y2="198.1" stroke="#dd0a35" stroke-width="1.3"/>
<rect x="156.30" y="195.4" width="3.7" height="1.8" fill="#dd0a35"/>
<line x1="162.13" y1="189.1" x2="162.13" y2="201.4" stroke="#000" stroke-width="1.3"/>
<rect x="160.73" y="192.3" width="2.8" height="5.2" fill="#fff" stroke="#000" stroke-width="1.2"/>
<line x1="166.12" y1="186.5" x2="166.12" y2="205.7" stroke="#dd0a35" stroke-width="1.3"/>
<rect x="164.27" y="187.8" width="3.7" height="15.6" fill="#dd0a35"/>
<line x1="170.11" y1="187.0" x2="170.11" y2="200.0" stroke="#000" stroke-width="1.3"/>
<rect x="168.71" y="189.1" width="2.8" height="6.4" fill="#fff" stroke="#000" stroke-width="1.2"/>
<line x1="174.09" y1="185.5" x2="174.09" y2="195.8" stroke="#dd0a35" stroke-width="1.3"/>
<rect x="172.24" y="188.2" width="3.7" height="4.4" fill="#dd0a35"/>
<line x1="178.08" y1="189.3" x2="178.08" y2="198.2" stroke="#000" stroke-width="1.3"/>
<rect x="176.68" y="191.2" width="2.8" height="4.3" fill="#fff" stroke="#000" stroke-width="1.2"/>
<line x1="182.07" y1="190.3" x2="182.07" y2="205.9" stroke="#dd0a35" stroke-width="1.3"/>
<rect x="180.22" y="191.0" width="3.7" height="7.4" fill="#dd0a35"/>
<line x1="186.05" y1="185.7" x2="186.05" y2="200.3" stroke="#dd0a35" stroke-width="1.3"/>
<rect x="184.20" y="194.8" width="3.7" height="3.6" fill="#dd0a35"/>
<line x1="190.04" y1="184.6" x2="190.04" y2="200.8" stroke="#000" stroke-width="1.3"/>
<rect x="188.64" y="185.9" width="2.8" height="7.1" fill="#fff" stroke="#000" stroke-width="1.2"/>
<line x1="194.03" y1="191.0" x2="194.03" y2="219.0" stroke="#dd0a35" stroke-width="1.3"/>
<rect x="192.18" y="191.0" width="3.7" height="22.2" fill="#dd0a35"/>
<line x1="198.01" y1="207.8" x2="198.01" y2="219.3" stroke="#dd0a35" stroke-width="1.3"/>
<rect x="196.61" y="215.9" width="2.8" height="2.1" fill="#fff" stroke="#dd0a35" stroke-width="1.2"/>
<line x1="202.00" y1="211.3" x2="202.00" y2="222.3" stroke="#dd0a35" stroke-width="1.3"/>
<rect x="200.15" y="214.5" width="3.7" height="4.7" fill="#dd0a35"/>
<line x1="205.99" y1="214.7" x2="205.99" y2="243.3" stroke="#dd0a35" stroke-width="1.3"/>
<rect x="204.14" y="218.3" width="3.7" height="23.6" fill="#dd0a35"/>
<line x1="209.98" y1="221.7" x2="209.98" y2="245.4" stroke="#000" stroke-width="1.3"/>
<rect x="208.58" y="227.5" width="2.8" height="14.4" fill="#fff" stroke="#000" stroke-width="1.2"/>
<line x1="213.96" y1="218.0" x2="213.96" y2="231.8" stroke="#000" stroke-width="1.3"/>
<rect x="212.56" y="221.7" width="2.8" height="4.4" fill="#fff" stroke="#000" stroke-width="1.2"/>
<line x1="217.95" y1="205.8" x2="217.95" y2="242.3" stroke="#000" stroke-width="1.3"/>
<rect x="216.55" y="207.9" width="2.8" height="12.4" fill="#fff" stroke="#000" stroke-width="1.2"/>
<line x1="221.94" y1="195.2" x2="221.94" y2="212.5" stroke="#000" stroke-width="1.3"/>
<rect x="220.54" y="198.1" width="2.8" height="10.0" fill="#fff" stroke="#000" stroke-width="1.2"/>
<line x1="225.92" y1="187.9" x2="225.92" y2="199.6" stroke="#000" stroke-width="1.3"/>
<rect x="224.52" y="191.1" width="2.8" height="5.3" fill="#fff" stroke="#000" stroke-width="1.2"/>
<line x1="229.91" y1="188.2" x2="229.91" y2="196.3" stroke="#000" stroke-width="1.3"/>
<rect x="228.51" y="189.5" width="2.8" height="3.0" fill="#fff" stroke="#000" stroke-width="1.2"/>
<line x1="233.90" y1="180.2" x2="233.90" y2="193.3" stroke="#000" stroke-width="1.3"/>
<rect x="232.05" y="183.7" width="3.7" height="4.8" fill="#000"/>
<line x1="237.88" y1="175.8" x2="237.88" y2="193.0" stroke="#dd0a35" stroke-width="1.3"/>
<rect x="236.03" y="186.9" width="3.7" height="5.4" fill="#dd0a35"/>
<line x1="241.87" y1="165.8" x2="241.87" y2="176.6" stroke="#000" stroke-width="1.3"/>
<rect x="240.47" y="171.0" width="2.8" height="1.3" fill="#fff" stroke="#000" stroke-width="1.2"/>
<line x1="245.86" y1="170.0" x2="245.86" y2="179.3" stroke="#dd0a35" stroke-width="1.3"/>
<rect x="244.01" y="171.3" width="3.7" height="1.6" fill="#dd0a35"/>
<line x1="249.85" y1="167.7" x2="249.85" y2="172.5" stroke="#000" stroke-width="1.3"/>
<rect x="248.45" y="169.8" width="2.8" height="0.5" fill="#fff" stroke="#000" stroke-width="1.2"/>
<line x1="253.83" y1="165.4" x2="253.83" y2="173.7" stroke="#000" stroke-width="1.3"/>
<rect x="252.43" y="166.6" width="2.8" height="0.5" fill="#fff" stroke="#000" stroke-width="1.2"/>
<line x1="257.82" y1="164.1" x2="257.82" y2="170.0" stroke="#dd0a35" stroke-width="1.3"/>
<rect x="255.97" y="165.8" width="3.7" height="2.6" fill="#dd0a35"/>
<line x1="261.81" y1="158.2" x2="261.81" y2="168.7" stroke="#000" stroke-width="1.3"/>
<rect x="259.96" y="159.3" width="3.7" height="3.8" fill="#000"/>
<line x1="265.79" y1="159.0" x2="265.79" y2="167.2" stroke="#dd0a35" stroke-width="1.3"/>
<rect x="263.94" y="160.9" width="3.7" height="3.9" fill="#dd0a35"/>
<line x1="269.78" y1="158.7" x2="269.78" y2="172.7" stroke="#000" stroke-width="1.3"/>
<rect x="268.38" y="159.9" width="2.8" height="7.0" fill="#fff" stroke="#000" stroke-width="1.2"/>
<line x1="273.77" y1="160.3" x2="273.77" y2="177.8" stroke="#dd0a35" stroke-width="1.3"/>
<rect x="271.92" y="160.3" width="3.7" height="11.1" fill="#dd0a35"/>
<line x1="277.76" y1="168.9" x2="277.76" y2="178.7" stroke="#000" stroke-width="1.3"/>
<rect x="276.36" y="171.9" width="2.8" height="1.4" fill="#fff" stroke="#000" stroke-width="1.2"/>
<line x1="281.74" y1="169.4" x2="281.74" y2="178.7" stroke="#dd0a35" stroke-width="1.3"/>
<rect x="279.89" y="172.3" width="3.7" height="1.2" fill="#dd0a35"/>
<line x1="285.73" y1="161.4" x2="285.73" y2="173.0" stroke="#000" stroke-width="1.3"/>
<rect x="284.33" y="162.5" width="2.8" height="2.0" fill="#fff" stroke="#000" stroke-width="1.2"/>
<line x1="289.72" y1="164.6" x2="289.72" y2="176.7" stroke="#dd0a35" stroke-width="1.3"/>
<rect x="287.87" y="165.0" width="3.7" height="9.4" fill="#dd0a35"/>
<line x1="293.70" y1="160.5" x2="293.70" y2="173.5" stroke="#000" stroke-width="1.3"/>
<rect x="292.30" y="162.4" width="2.8" height="8.4" fill="#fff" stroke="#000" stroke-width="1.2"/>
<line x1="297.69" y1="151.7" x2="297.69" y2="163.2" stroke="#000" stroke-width="1.3"/>
<rect x="296.29" y="153.2" width="2.8" height="8.1" fill="#fff" stroke="#000" stroke-width="1.2"/>
<line x1="301.68" y1="151.9" x2="301.68" y2="158.9" stroke="#dd0a35" stroke-width="1.3"/>
<rect x="300.28" y="155.9" width="2.8" height="0.5" fill="#fff" stroke="#dd0a35" stroke-width="1.2"/>
<line x1="305.66" y1="145.9" x2="305.66" y2="157.3" stroke="#000" stroke-width="1.3"/>
<rect x="304.26" y="148.0" width="2.8" height="7.8" fill="#fff" stroke="#000" stroke-width="1.2"/>
<line x1="309.65" y1="135.0" x2="309.65" y2="145.4" stroke="#000" stroke-width="1.3"/>
<rect x="308.25" y="138.0" width="2.8" height="6.3" fill="#fff" stroke="#000" stroke-width="1.2"/>
<line x1="313.64" y1="135.2" x2="313.64" y2="149.9" stroke="#dd0a35" stroke-width="1.3"/>
<rect x="311.79" y="135.4" width="3.7" height="12.0" fill="#dd0a35"/>
<line x1="317.63" y1="140.5" x2="317.63" y2="149.0" stroke="#000" stroke-width="1.3"/>
<rect x="316.23" y="141.9" width="2.8" height="4.7" fill="#fff" stroke="#000" stroke-width="1.2"/>
<line x1="321.61" y1="133.3" x2="321.61" y2="141.8" stroke="#dd0a35" stroke-width="1.3"/>
<rect x="319.76" y="133.9" width="3.7" height="7.6" fill="#dd0a35"/>
<line x1="325.60" y1="134.7" x2="325.60" y2="140.5" stroke="#000" stroke-width="1.3"/>
<rect x="324.20" y="137.0" width="2.8" height="0.5" fill="#fff" stroke="#000" stroke-width="1.2"/>
<line x1="329.59" y1="135.9" x2="329.59" y2="145.3" stroke="#dd0a35" stroke-width="1.3"/>
<rect x="327.74" y="137.9" width="3.7" height="1.0" fill="#dd0a35"/>
<line x1="333.57" y1="136.7" x2="333.57" y2="146.1" stroke="#dd0a35" stroke-width="1.3"/>
<rect x="332.17" y="140.0" width="2.8" height="2.9" fill="#fff" stroke="#dd0a35" stroke-width="1.2"/>
<line x1="337.56" y1="143.0" x2="337.56" y2="159.3" stroke="#dd0a35" stroke-width="1.3"/>
<rect x="335.71" y="143.1" width="3.7" height="8.3" fill="#dd0a35"/>
<line x1="341.55" y1="146.8" x2="341.55" y2="154.2" stroke="#000" stroke-width="1.3"/>
<rect x="339.70" y="146.8" width="3.7" height="1.8" fill="#000"/>
<line x1="345.53" y1="136.8" x2="345.53" y2="150.8" stroke="#dd0a35" stroke-width="1.3"/>
<rect x="343.68" y="144.8" width="3.7" height="4.2" fill="#dd0a35"/>
<line x1="349.52" y1="141.2" x2="349.52" y2="145.6" stroke="#000" stroke-width="1.3"/>
<rect x="347.67" y="143.2" width="3.7" height="2.3" fill="#000"/>
<line x1="353.51" y1="140.3" x2="353.51" y2="150.3" stroke="#000" stroke-width="1.3"/>
<rect x="352.11" y="144.0" width="2.8" height="1.8" fill="#fff" stroke="#000" stroke-width="1.2"/>
<line x1="357.50" y1="139.4" x2="357.50" y2="148.3" stroke="#dd0a35" stroke-width="1.3"/>
<rect x="355.64" y="143.5" width="3.7" height="4.2" fill="#dd0a35"/>
<line x1="361.48" y1="156.4" x2="361.48" y2="172.8" stroke="#dd0a35" stroke-width="1.3"/>
<rect x="359.63" y="156.4" width="3.7" height="15.9" fill="#dd0a35"/>
<line x1="365.47" y1="163.5" x2="365.47" y2="175.3" stroke="#000" stroke-width="1.3"/>
<rect x="364.07" y="167.5" width="2.8" height="4.1" fill="#fff" stroke="#000" stroke-width="1.2"/>
<line x1="369.46" y1="164.7" x2="369.46" y2="173.8" stroke="#dd0a35" stroke-width="1.3"/>
<rect x="367.61" y="166.4" width="3.7" height="4.2" fill="#dd0a35"/>
<line x1="373.44" y1="154.5" x2="373.44" y2="168.4" stroke="#000" stroke-width="1.3"/>
<rect x="372.04" y="155.3" width="2.8" height="12.5" fill="#fff" stroke="#000" stroke-width="1.2"/>
<line x1="377.43" y1="120.6" x2="377.43" y2="136.3" stroke="#000" stroke-width="1.3"/>
<rect x="376.03" y="122.7" width="2.8" height="13.0" fill="#fff" stroke="#000" stroke-width="1.2"/>
<line x1="381.42" y1="110.2" x2="381.42" y2="118.2" stroke="#000" stroke-width="1.3"/>
<rect x="380.02" y="113.1" width="2.8" height="4.5" fill="#fff" stroke="#000" stroke-width="1.2"/>
<line x1="385.40" y1="103.9" x2="385.40" y2="111.7" stroke="#000" stroke-width="1.3"/>
<rect x="384.00" y="108.2" width="2.8" height="2.9" fill="#fff" stroke="#000" stroke-width="1.2"/>
<line x1="389.39" y1="102.9" x2="389.39" y2="109.5" stroke="#000" stroke-width="1.3"/>
<rect x="387.54" y="104.7" width="3.7" height="1.6" fill="#000"/>
<line x1="393.38" y1="104.5" x2="393.38" y2="115.3" stroke="#dd0a35" stroke-width="1.3"/>
<rect x="391.53" y="105.9" width="3.7" height="4.3" fill="#dd0a35"/>
<line x1="397.37" y1="104.9" x2="397.37" y2="114.2" stroke="#000" stroke-width="1.3"/>
<rect x="395.51" y="109.7" width="3.7" height="1.0" fill="#000"/>
<line x1="401.35" y1="108.0" x2="401.35" y2="119.2" stroke="#dd0a35" stroke-width="1.3"/>
<rect x="399.50" y="108.9" width="3.7" height="8.8" fill="#dd0a35"/>
<line x1="405.34" y1="125.1" x2="405.34" y2="139.1" stroke="#dd0a35" stroke-width="1.3"/>
<rect x="403.49" y="125.7" width="3.7" height="9.3" fill="#dd0a35"/>
<line x1="409.33" y1="126.7" x2="409.33" y2="136.1" stroke="#000" stroke-width="1.3"/>
<rect x="407.93" y="130.5" width="2.8" height="3.1" fill="#fff" stroke="#000" stroke-width="1.2"/>
<line x1="413.31" y1="123.4" x2="413.31" y2="137.4" stroke="#000" stroke-width="1.3"/>
<rect x="411.91" y="125.4" width="2.8" height="10.7" fill="#fff" stroke="#000" stroke-width="1.2"/>
<line x1="417.30" y1="124.0" x2="417.30" y2="126.0" stroke="#000" stroke-width="1.3"/>
<rect x="415.90" y="125.4" width="2.8" height="0.5" fill="#fff" stroke="#000" stroke-width="1.2"/>
<line x1="421.29" y1="114.6" x2="421.29" y2="131.7" stroke="#000" stroke-width="1.3"/>
<rect x="419.89" y="118.4" width="2.8" height="6.4" fill="#fff" stroke="#000" stroke-width="1.2"/>
<line x1="425.27" y1="112.5" x2="425.27" y2="118.8" stroke="#000" stroke-width="1.3"/>
<rect x="423.87" y="113.9" width="2.8" height="4.3" fill="#fff" stroke="#000" stroke-width="1.2"/>
<line x1="429.26" y1="102.1" x2="429.26" y2="114.5" stroke="#000" stroke-width="1.3"/>
<rect x="427.41" y="108.3" width="3.7" height="1.1" fill="#000"/>
<line x1="433.25" y1="101.1" x2="433.25" y2="108.3" stroke="#000" stroke-width="1.3"/>
<rect x="431.85" y="102.5" width="2.8" height="5.2" fill="#fff" stroke="#000" stroke-width="1.2"/>
<line x1="437.24" y1="102.3" x2="437.24" y2="109.9" stroke="#dd0a35" stroke-width="1.3"/>
<rect x="435.38" y="103.6" width="3.7" height="3.3" fill="#dd0a35"/>
<line x1="441.22" y1="97.1" x2="441.22" y2="105.8" stroke="#000" stroke-width="1.3"/>
<rect x="439.82" y="100.2" width="2.8" height="4.9" fill="#fff" stroke="#000" stroke-width="1.2"/>
<line x1="445.21" y1="95.1" x2="445.21" y2="99.0" stroke="#000" stroke-width="1.3"/>
<rect x="443.81" y="97.0" width="2.8" height="0.5" fill="#fff" stroke="#000" stroke-width="1.2"/>
<line x1="449.20" y1="95.2" x2="449.20" y2="99.3" stroke="#000" stroke-width="1.3"/>
<rect x="447.80" y="96.5" width="2.8" height="0.5" fill="#fff" stroke="#000" stroke-width="1.2"/>
<line x1="453.18" y1="87.3" x2="453.18" y2="93.4" stroke="#000" stroke-width="1.3"/>
<rect x="451.78" y="88.6" width="2.8" height="2.3" fill="#fff" stroke="#000" stroke-width="1.2"/>
<line x1="457.17" y1="86.4" x2="457.17" y2="91.4" stroke="#dd0a35" stroke-width="1.3"/>
<rect x="455.32" y="87.4" width="3.7" height="3.0" fill="#dd0a35"/>
<line x1="461.16" y1="85.1" x2="461.16" y2="89.4" stroke="#000" stroke-width="1.3"/>
<rect x="459.76" y="87.8" width="2.8" height="0.7" fill="#fff" stroke="#000" stroke-width="1.2"/>
<line x1="465.14" y1="87.6" x2="465.14" y2="97.4" stroke="#dd0a35" stroke-width="1.3"/>
<rect x="463.29" y="88.7" width="3.7" height="6.5" fill="#dd0a35"/>
<line x1="469.13" y1="92.5" x2="469.13" y2="100.2" stroke="#dd0a35" stroke-width="1.3"/>
<rect x="467.28" y="94.2" width="3.7" height="4.9" fill="#dd0a35"/>
<line x1="473.12" y1="86.7" x2="473.12" y2="93.6" stroke="#000" stroke-width="1.3"/>
<rect x="471.72" y="89.1" width="2.8" height="4.0" fill="#fff" stroke="#000" stroke-width="1.2"/>
<line x1="477.11" y1="89.4" x2="477.11" y2="95.6" stroke="#dd0a35" stroke-width="1.3"/>
<rect x="475.25" y="90.6" width="3.7" height="5.0" fill="#dd0a35"/>
<line x1="481.09" y1="89.7" x2="481.09" y2="98.9" stroke="#dd0a35" stroke-width="1.3"/>
<rect x="479.24" y="91.9" width="3.7" height="3.7" fill="#dd0a35"/>
<line x1="485.08" y1="88.3" x2="485.08" y2="93.9" stroke="#000" stroke-width="1.3"/>
<rect x="483.68" y="91.2" width="2.8" height="1.0" fill="#fff" stroke="#000" stroke-width="1.2"/>
<line x1="489.07" y1="94.2" x2="489.07" y2="99.0" stroke="#dd0a35" stroke-width="1.3"/>
<rect x="487.22" y="95.3" width="3.7" height="1.0" fill="#dd0a35"/>
<line x1="493.05" y1="91.4" x2="493.05" y2="135.7" stroke="#dd0a35" stroke-width="1.3"/>
<rect x="491.20" y="96.3" width="3.7" height="38.4" fill="#dd0a35"/>
<line x1="497.04" y1="120.7" x2="497.04" y2="136.1" stroke="#dd0a35" stroke-width="1.3"/>
<rect x="495.19" y="125.7" width="3.7" height="10.1" fill="#dd0a35"/>
<line x1="501.03" y1="110.5" x2="501.03" y2="143.6" stroke="#000" stroke-width="1.3"/>
<rect x="499.63" y="122.3" width="2.8" height="18.5" fill="#fff" stroke="#000" stroke-width="1.2"/>
<line x1="505.01" y1="111.4" x2="505.01" y2="128.0" stroke="#000" stroke-width="1.3"/>
<rect x="503.61" y="112.9" width="2.8" height="6.2" fill="#fff" stroke="#000" stroke-width="1.2"/>
<line x1="509.00" y1="98.0" x2="509.00" y2="110.1" stroke="#000" stroke-width="1.3"/>
<rect x="507.60" y="98.6" width="2.8" height="10.8" fill="#fff" stroke="#000" stroke-width="1.2"/>
<line x1="512.99" y1="95.9" x2="512.99" y2="105.0" stroke="#dd0a35" stroke-width="1.3"/>
<rect x="511.59" y="99.1" width="2.8" height="1.5" fill="#fff" stroke="#dd0a35" stroke-width="1.2"/>
<line x1="516.98" y1="105.3" x2="516.98" y2="121.3" stroke="#dd0a35" stroke-width="1.3"/>
<rect x="515.12" y="105.3" width="3.7" height="7.7" fill="#dd0a35"/>
<line x1="520.96" y1="119.6" x2="520.96" y2="135.4" stroke="#dd0a35" stroke-width="1.3"/>
<rect x="519.11" y="124.0" width="3.7" height="3.0" fill="#dd0a35"/>
<line x1="524.95" y1="122.0" x2="524.95" y2="135.4" stroke="#dd0a35" stroke-width="1.3"/>
<rect x="523.10" y="124.2" width="3.7" height="8.4" fill="#dd0a35"/>
<line x1="528.94" y1="120.8" x2="528.94" y2="144.2" stroke="#dd0a35" stroke-width="1.3"/>
<rect x="527.09" y="127.8" width="3.7" height="7.7" fill="#dd0a35"/>
<line x1="532.92" y1="117.7" x2="532.92" y2="131.0" stroke="#000" stroke-width="1.3"/>
<rect x="531.52" y="119.8" width="2.8" height="10.1" fill="#fff" stroke="#000" stroke-width="1.2"/>
<line x1="536.91" y1="102.1" x2="536.91" y2="115.4" stroke="#000" stroke-width="1.3"/>
<rect x="535.06" y="110.4" width="3.7" height="1.6" fill="#000"/>
<line x1="540.90" y1="106.5" x2="540.90" y2="130.6" stroke="#dd0a35" stroke-width="1.3"/>
<rect x="539.05" y="108.1" width="3.7" height="18.4" fill="#dd0a35"/>
<line x1="544.88" y1="122.4" x2="544.88" y2="134.1" stroke="#000" stroke-width="1.3"/>
<rect x="543.48" y="125.1" width="2.8" height="0.5" fill="#fff" stroke="#000" stroke-width="1.2"/>
<line x1="548.87" y1="130.6" x2="548.87" y2="148.7" stroke="#dd0a35" stroke-width="1.3"/>
<rect x="547.02" y="130.6" width="3.7" height="14.1" fill="#dd0a35"/>
<line x1="552.86" y1="141.2" x2="552.86" y2="156.8" stroke="#000" stroke-width="1.3"/>
<rect x="551.46" y="143.3" width="2.8" height="9.4" fill="#fff" stroke="#000" stroke-width="1.2"/>
<line x1="556.85" y1="134.8" x2="556.85" y2="149.5" stroke="#000" stroke-width="1.3"/>
<rect x="555.00" y="137.5" width="3.7" height="3.7" fill="#000"/>
<line x1="560.83" y1="115.2" x2="560.83" y2="130.7" stroke="#000" stroke-width="1.3"/>
<rect x="559.43" y="118.2" width="2.8" height="8.7" fill="#fff" stroke="#000" stroke-width="1.2"/>
<line x1="564.82" y1="114.3" x2="564.82" y2="121.7" stroke="#dd0a35" stroke-width="1.3"/>
<rect x="562.97" y="114.6" width="3.7" height="5.8" fill="#dd0a35"/>
<line x1="568.81" y1="103.4" x2="568.81" y2="109.6" stroke="#000" stroke-width="1.3"/>
<rect x="567.41" y="108.0" width="2.8" height="0.5" fill="#fff" stroke="#000" stroke-width="1.2"/>
<line x1="572.79" y1="95.5" x2="572.79" y2="105.1" stroke="#000" stroke-width="1.3"/>
<rect x="571.39" y="96.6" width="2.8" height="6.4" fill="#fff" stroke="#000" stroke-width="1.2"/>
<line x1="576.78" y1="84.9" x2="576.78" y2="90.2" stroke="#000" stroke-width="1.3"/>
<rect x="575.38" y="88.6" width="2.8" height="0.5" fill="#fff" stroke="#000" stroke-width="1.2"/>
<line x1="580.77" y1="81.1" x2="580.77" y2="90.5" stroke="#000" stroke-width="1.3"/>
<rect x="579.37" y="81.7" width="2.8" height="7.9" fill="#fff" stroke="#000" stroke-width="1.2"/>
<line x1="584.75" y1="79.1" x2="584.75" y2="87.5" stroke="#dd0a35" stroke-width="1.3"/>
<rect x="582.90" y="80.5" width="3.7" height="4.3" fill="#dd0a35"/>
<line x1="588.74" y1="102.9" x2="588.74" y2="114.7" stroke="#dd0a35" stroke-width="1.3"/>
<rect x="587.34" y="104.6" width="2.8" height="8.2" fill="#fff" stroke="#dd0a35" stroke-width="1.2"/>
<line x1="592.73" y1="90.6" x2="592.73" y2="107.8" stroke="#000" stroke-width="1.3"/>
<rect x="591.33" y="92.6" width="2.8" height="7.8" fill="#fff" stroke="#000" stroke-width="1.2"/>
<line x1="596.72" y1="93.1" x2="596.72" y2="103.8" stroke="#dd0a35" stroke-width="1.3"/>
<rect x="594.87" y="94.2" width="3.7" height="4.0" fill="#dd0a35"/>
<line x1="600.70" y1="88.0" x2="600.70" y2="100.7" stroke="#000" stroke-width="1.3"/>
<rect x="599.30" y="91.9" width="2.8" height="3.2" fill="#fff" stroke="#000" stroke-width="1.2"/>
<line x1="604.69" y1="80.6" x2="604.69" y2="99.9" stroke="#dd0a35" stroke-width="1.3"/>
<rect x="602.84" y="85.8" width="3.7" height="12.1" fill="#dd0a35"/>
<line x1="608.68" y1="101.8" x2="608.68" y2="123.3" stroke="#dd0a35" stroke-width="1.3"/>
<rect x="607.28" y="108.4" width="2.8" height="4.2" fill="#fff" stroke="#dd0a35" stroke-width="1.2"/>
<line x1="612.66" y1="97.4" x2="612.66" y2="108.6" stroke="#000" stroke-width="1.3"/>
<rect x="611.26" y="99.0" width="2.8" height="7.4" fill="#fff" stroke="#000" stroke-width="1.2"/>
<line x1="616.65" y1="93.1" x2="616.65" y2="105.1" stroke="#000" stroke-width="1.3"/>
<rect x="615.25" y="94.0" width="2.8" height="7.7" fill="#fff" stroke="#000" stroke-width="1.2"/>
<line x1="620.64" y1="88.5" x2="620.64" y2="96.5" stroke="#000" stroke-width="1.3"/>
<rect x="619.24" y="89.2" width="2.8" height="1.2" fill="#fff" stroke="#000" stroke-width="1.2"/>
<line x1="624.62" y1="84.8" x2="624.62" y2="102.3" stroke="#dd0a35" stroke-width="1.3"/>
<rect x="622.77" y="88.7" width="3.7" height="12.3" fill="#dd0a35"/>
<line x1="628.61" y1="90.8" x2="628.61" y2="96.9" stroke="#000" stroke-width="1.3"/>
<rect x="627.21" y="92.9" width="2.8" height="3.1" fill="#fff" stroke="#000" stroke-width="1.2"/>
<line x1="632.60" y1="90.2" x2="632.60" y2="97.5" stroke="#000" stroke-width="1.3"/>
<rect x="631.20" y="92.4" width="2.8" height="2.9" fill="#fff" stroke="#000" stroke-width="1.2"/>
<line x1="636.59" y1="93.0" x2="636.59" y2="106.0" stroke="#dd0a35" stroke-width="1.3"/>
<rect x="635.19" y="96.0" width="2.8" height="4.6" fill="#fff" stroke="#dd0a35" stroke-width="1.2"/>
<line x1="640.57" y1="81.5" x2="640.57" y2="95.5" stroke="#000" stroke-width="1.3"/>
<rect x="639.17" y="82.5" width="2.8" height="10.5" fill="#fff" stroke="#000" stroke-width="1.2"/>
<line x1="644.56" y1="79.2" x2="644.56" y2="83.5" stroke="#dd0a35" stroke-width="1.3"/>
<rect x="642.71" y="81.8" width="3.7" height="1.0" fill="#dd0a35"/>
<line x1="648.55" y1="78.8" x2="648.55" y2="85.2" stroke="#000" stroke-width="1.3"/>
<rect x="647.15" y="79.4" width="2.8" height="0.5" fill="#fff" stroke="#000" stroke-width="1.2"/>
<line x1="652.53" y1="75.0" x2="652.53" y2="82.7" stroke="#000" stroke-width="1.3"/>
<rect x="651.13" y="76.3" width="2.8" height="1.2" fill="#fff" stroke="#000" stroke-width="1.2"/>
<line x1="656.52" y1="77.8" x2="656.52" y2="88.4" stroke="#dd0a35" stroke-width="1.3"/>
<rect x="654.67" y="77.8" width="3.7" height="3.6" fill="#dd0a35"/>
<line x1="660.51" y1="81.9" x2="660.51" y2="104.8" stroke="#dd0a35" stroke-width="1.3"/>
<rect x="658.66" y="82.1" width="3.7" height="21.7" fill="#dd0a35"/>
<line x1="664.49" y1="97.2" x2="664.49" y2="111.5" stroke="#dd0a35" stroke-width="1.3"/>
<rect x="662.64" y="100.9" width="3.7" height="9.4" fill="#dd0a35"/>
<line x1="668.48" y1="108.2" x2="668.48" y2="126.7" stroke="#dd0a35" stroke-width="1.3"/>
<rect x="666.63" y="110.4" width="3.7" height="6.0" fill="#dd0a35"/>
<line x1="672.47" y1="104.5" x2="672.47" y2="121.3" stroke="#000" stroke-width="1.3"/>
<rect x="670.62" y="113.0" width="3.7" height="3.2" fill="#000"/>
<line x1="676.46" y1="108.0" x2="676.46" y2="137.7" stroke="#dd0a35" stroke-width="1.3"/>
<rect x="674.61" y="110.6" width="3.7" height="26.5" fill="#dd0a35"/>
<line x1="680.44" y1="115.5" x2="680.44" y2="142.4" stroke="#000" stroke-width="1.3"/>
<rect x="679.04" y="117.2" width="2.8" height="20.4" fill="#fff" stroke="#000" stroke-width="1.2"/>
<line x1="684.43" y1="109.7" x2="684.43" y2="148.4" stroke="#dd0a35" stroke-width="1.3"/>
<rect x="682.58" y="113.5" width="3.7" height="26.2" fill="#dd0a35"/>
<line x1="688.42" y1="136.3" x2="688.42" y2="166.0" stroke="#dd0a35" stroke-width="1.3"/>
<rect x="686.57" y="148.1" width="3.7" height="7.6" fill="#dd0a35"/>
<line x1="692.40" y1="137.3" x2="692.40" y2="163.8" stroke="#000" stroke-width="1.3"/>
<rect x="691.00" y="141.9" width="2.8" height="12.5" fill="#fff" stroke="#000" stroke-width="1.2"/>
<line x1="696.39" y1="148.1" x2="696.39" y2="170.8" stroke="#dd0a35" stroke-width="1.3"/>
<rect x="694.54" y="154.0" width="3.7" height="10.7" fill="#dd0a35"/>
<line x1="700.38" y1="154.6" x2="700.38" y2="181.2" stroke="#000" stroke-width="1.3"/>
<rect x="698.98" y="158.1" width="2.8" height="8.8" fill="#fff" stroke="#000" stroke-width="1.2"/>
<line x1="704.36" y1="172.2" x2="704.36" y2="204.9" stroke="#dd0a35" stroke-width="1.3"/>
<rect x="702.51" y="172.2" width="3.7" height="20.9" fill="#dd0a35"/>
<line x1="708.35" y1="188.1" x2="708.35" y2="213.3" stroke="#dd0a35" stroke-width="1.3"/>
<rect x="706.50" y="195.7" width="3.7" height="7.4" fill="#dd0a35"/>
<line x1="712.34" y1="186.8" x2="712.34" y2="209.1" stroke="#000" stroke-width="1.3"/>
<rect x="710.49" y="190.8" width="3.7" height="5.9" fill="#000"/>
<line x1="716.33" y1="197.7" x2="716.33" y2="218.9" stroke="#dd0a35" stroke-width="1.3"/>
<rect x="714.48" y="200.7" width="3.7" height="14.2" fill="#dd0a35"/>
<line x1="720.31" y1="186.0" x2="720.31" y2="205.0" stroke="#000" stroke-width="1.3"/>
<rect x="718.91" y="188.1" width="2.8" height="16.3" fill="#fff" stroke="#000" stroke-width="1.2"/>
<line x1="724.30" y1="172.7" x2="724.30" y2="187.5" stroke="#000" stroke-width="1.3"/>
<rect x="722.90" y="179.8" width="2.8" height="6.5" fill="#fff" stroke="#000" stroke-width="1.2"/>
<line x1="728.29" y1="183.9" x2="728.29" y2="197.1" stroke="#dd0a35" stroke-width="1.3"/>
<rect x="726.44" y="183.9" width="3.7" height="9.2" fill="#dd0a35"/>
<line x1="732.27" y1="170.0" x2="732.27" y2="191.4" stroke="#000" stroke-width="1.3"/>
<rect x="730.87" y="179.7" width="2.8" height="8.7" fill="#fff" stroke="#000" stroke-width="1.2"/>
<line x1="736.26" y1="170.9" x2="736.26" y2="188.9" stroke="#dd0a35" stroke-width="1.3"/>
<rect x="734.86" y="182.6" width="2.8" height="2.5" fill="#fff" stroke="#dd0a35" stroke-width="1.2"/>
<line x1="740.25" y1="180.2" x2="740.25" y2="195.8" stroke="#000" stroke-width="1.3"/>
<rect x="738.85" y="181.5" width="2.8" height="7.3" fill="#fff" stroke="#000" stroke-width="1.2"/>
<line x1="744.23" y1="156.4" x2="744.23" y2="169.4" stroke="#000" stroke-width="1.3"/>
<rect x="742.83" y="158.7" width="2.8" height="10.0" fill="#fff" stroke="#000" stroke-width="1.2"/>
<line x1="748.22" y1="153.7" x2="748.22" y2="159.7" stroke="#000" stroke-width="1.3"/>
<rect x="746.82" y="156.7" width="2.8" height="0.5" fill="#fff" stroke="#000" stroke-width="1.2"/>
<line x1="752.21" y1="154.3" x2="752.21" y2="174.5" stroke="#dd0a35" stroke-width="1.3"/>
<rect x="750.36" y="157.2" width="3.7" height="13.5" fill="#dd0a35"/>
<line x1="756.20" y1="166.1" x2="756.20" y2="180.1" stroke="#dd0a35" stroke-width="1.3"/>
<rect x="754.35" y="174.5" width="3.7" height="1.0" fill="#dd0a35"/>
<line x1="760.18" y1="176.7" x2="760.18" y2="203.0" stroke="#dd0a35" stroke-width="1.3"/>
<rect x="758.33" y="178.1" width="3.7" height="22.8" fill="#dd0a35"/>
<line x1="764.17" y1="191.1" x2="764.17" y2="222.7" stroke="#000" stroke-width="1.3"/>
<rect x="762.77" y="194.4" width="2.8" height="18.4" fill="#fff" stroke="#000" stroke-width="1.2"/>
<line x1="768.16" y1="184.8" x2="768.16" y2="206.2" stroke="#000" stroke-width="1.3"/>
<rect x="766.76" y="189.5" width="2.8" height="7.0" fill="#fff" stroke="#000" stroke-width="1.2"/>
<line x1="772.14" y1="174.5" x2="772.14" y2="203.2" stroke="#000" stroke-width="1.3"/>
<rect x="770.74" y="180.7" width="2.8" height="19.7" fill="#fff" stroke="#000" stroke-width="1.2"/>
<line x1="776.13" y1="220.1" x2="776.13" y2="246.1" stroke="#dd0a35" stroke-width="1.3"/>
<rect x="774.28" y="221.7" width="3.7" height="23.0" fill="#dd0a35"/>
<line x1="780.12" y1="270.2" x2="780.12" y2="326.1" stroke="#dd0a35" stroke-width="1.3"/>
<rect x="778.27" y="270.2" width="3.7" height="54.8" fill="#dd0a35"/>
<line x1="784.10" y1="281.5" x2="784.10" y2="387.9" stroke="#dd0a35" stroke-width="1.3"/>
<rect x="782.70" y="328.7" width="2.8" height="27.0" fill="#fff" stroke="#dd0a35" stroke-width="1.2"/>
<line x1="788.09" y1="276.3" x2="788.09" y2="367.8" stroke="#dd0a35" stroke-width="1.3"/>
<rect x="786.24" y="294.7" width="3.7" height="54.0" fill="#dd0a35"/>
<line x1="792.08" y1="224.4" x2="792.08" y2="357.7" stroke="#000" stroke-width="1.3"/>
<rect x="790.68" y="230.9" width="2.8" height="121.8" fill="#fff" stroke="#000" stroke-width="1.2"/>
<line x1="796.07" y1="255.3" x2="796.07" y2="314.5" stroke="#dd0a35" stroke-width="1.3"/>
<rect x="794.22" y="255.3" width="3.7" height="20.9" fill="#dd0a35"/>
<line x1="800.05" y1="251.1" x2="800.05" y2="287.9" stroke="#000" stroke-width="1.3"/>
<rect x="798.65" y="253.4" width="2.8" height="25.3" fill="#fff" stroke="#000" stroke-width="1.2"/>
<line x1="804.04" y1="229.7" x2="804.04" y2="254.1" stroke="#000" stroke-width="1.3"/>
<rect x="802.19" y="233.8" width="3.7" height="8.6" fill="#000"/>
<line x1="808.03" y1="231.8" x2="808.03" y2="247.2" stroke="#dd0a35" stroke-width="1.3"/>
<rect x="806.18" y="241.0" width="3.7" height="3.7" fill="#dd0a35"/>
<line x1="812.01" y1="251.9" x2="812.01" y2="287.9" stroke="#dd0a35" stroke-width="1.3"/>
<rect x="810.16" y="259.5" width="3.7" height="14.7" fill="#dd0a35"/>
<line x1="816.00" y1="261.3" x2="816.00" y2="279.3" stroke="#000" stroke-width="1.3"/>
<rect x="814.15" y="266.9" width="3.7" height="5.6" fill="#000"/>
<line x1="819.99" y1="284.9" x2="819.99" y2="318.0" stroke="#dd0a35" stroke-width="1.3"/>
<rect x="818.14" y="284.9" width="3.7" height="18.7" fill="#dd0a35"/>
<line x1="823.97" y1="265.9" x2="823.97" y2="291.2" stroke="#000" stroke-width="1.3"/>
<rect x="822.57" y="271.9" width="2.8" height="18.7" fill="#fff" stroke="#000" stroke-width="1.2"/>
<line x1="827.96" y1="227.2" x2="827.96" y2="254.4" stroke="#000" stroke-width="1.3"/>
<rect x="826.11" y="244.9" width="3.7" height="4.9" fill="#000"/>
<line x1="831.95" y1="222.5" x2="831.95" y2="250.7" stroke="#000" stroke-width="1.3"/>
<rect x="830.55" y="224.2" width="2.8" height="23.6" fill="#fff" stroke="#000" stroke-width="1.2"/>
<line x1="835.94" y1="213.4" x2="835.94" y2="230.5" stroke="#000" stroke-width="1.3"/>
<rect x="834.54" y="214.7" width="2.8" height="7.2" fill="#fff" stroke="#000" stroke-width="1.2"/>
<line x1="839.92" y1="207.4" x2="839.92" y2="227.5" stroke="#000" stroke-width="1.3"/>
<rect x="838.07" y="213.1" width="3.7" height="1.0" fill="#000"/>
<line x1="843.91" y1="203.1" x2="843.91" y2="218.7" stroke="#000" stroke-width="1.3"/>
<rect x="842.51" y="206.3" width="2.8" height="11.0" fill="#fff" stroke="#000" stroke-width="1.2"/>
<line x1="847.90" y1="200.8" x2="847.90" y2="235.9" stroke="#000" stroke-width="1.3"/>
<rect x="846.50" y="204.4" width="2.8" height="15.2" fill="#fff" stroke="#000" stroke-width="1.2"/>
<line x1="851.88" y1="182.9" x2="851.88" y2="197.2" stroke="#000" stroke-width="1.3"/>
<rect x="850.03" y="190.7" width="3.7" height="4.9" fill="#000"/>
<line x1="855.87" y1="173.3" x2="855.87" y2="187.2" stroke="#000" stroke-width="1.3"/>
<rect x="854.47" y="177.1" width="2.8" height="8.2" fill="#fff" stroke="#000" stroke-width="1.2"/>
<line x1="859.86" y1="177.3" x2="859.86" y2="186.2" stroke="#dd0a35" stroke-width="1.3"/>
<rect x="858.01" y="183.7" width="3.7" height="1.1" fill="#dd0a35"/>
<line x1="863.84" y1="185.1" x2="863.84" y2="197.4" stroke="#dd0a35" stroke-width="1.3"/>
<rect x="861.99" y="194.9" width="3.7" height="1.0" fill="#dd0a35"/>
<line x1="867.83" y1="183.9" x2="867.83" y2="199.4" stroke="#000" stroke-width="1.3"/>
<rect x="866.43" y="189.9" width="2.8" height="2.8" fill="#fff" stroke="#000" stroke-width="1.2"/>
<line x1="871.82" y1="168.9" x2="871.82" y2="190.3" stroke="#000" stroke-width="1.3"/>
<rect x="870.42" y="182.3" width="2.8" height="0.5" fill="#fff" stroke="#000" stroke-width="1.2"/>
<line x1="875.81" y1="175.4" x2="875.81" y2="186.3" stroke="#dd0a35" stroke-width="1.3"/>
<rect x="873.96" y="178.1" width="3.7" height="4.5" fill="#dd0a35"/>
<polyline points="18.6,273.4 22.6,270.7 26.6,268.2 30.6,265.7 34.5,263.3 38.5,260.7 42.5,258.1 46.5,255.8 50.5,253.0 54.5,250.0 58.5,247.1 62.5,244.8 66.4,243.1 70.4,241.6 74.4,239.7 78.4,238.1 82.4,237.1 86.4,236.3 90.4,235.2 94.4,234.5 98.3,233.8 102.3,232.8 106.3,232.1 110.3,232.0 114.3,232.6 118.3,232.7 122.3,233.2 126.2,233.2 130.2,232.8 134.2,232.3 138.2,231.5 142.2,230.7 146.2,229.5 150.2,228.5 154.2,227.3 158.1,226.1 162.1,224.9 166.1,224.0 170.1,222.9 174.1,222.1 178.1,221.2 182.1,220.6 186.1,220.1 190.0,219.3 194.0,219.0 198.0,218.6 202.0,218.5 206.0,218.8 210.0,218.8 214.0,218.7 217.9,218.3 221.9,217.9 225.9,217.5 229.9,217.2 233.9,216.9 237.9,216.7 241.9,216.3 245.9,215.7 249.8,215.2 253.8,214.8 257.8,214.5 261.8,213.8 265.8,212.9 269.8,211.6 273.8,211.0 277.8,210.2 281.7,209.0 285.7,207.3 289.7,206.2 293.7,204.8 297.7,203.2 301.7,202.0 305.7,200.3 309.7,197.9 313.6,194.9 317.6,192.1 321.6,189.2 325.6,186.6 329.6,184.3 333.6,182.0 337.6,180.3 341.5,178.7 345.5,177.4 349.5,176.2 353.5,175.2 357.5,174.2 361.5,173.8 365.5,173.1 369.5,172.7 373.4,172.0 377.4,170.6 381.4,168.8 385.4,167.0 389.4,165.4 393.4,163.3 397.4,161.2 401.4,159.2 405.3,157.1 409.3,155.2 413.3,153.3 417.3,151.7 421.3,150.1 425.3,148.6 429.3,147.0 433.2,145.2 437.2,143.5 441.2,142.1 445.2,140.6 449.2,139.1 453.2,137.5 457.2,136.0 461.2,134.4 465.1,133.0 469.1,131.8 473.1,130.2 477.1,128.6 481.1,127.1 485.1,125.7 489.1,124.1 493.1,123.6 497.0,123.2 501.0,122.6 505.0,121.9 509.0,121.1 513.0,120.1 517.0,119.6 521.0,119.3 524.9,119.2 528.9,119.1 532.9,118.7 536.9,117.9 540.9,117.5 544.9,117.0 548.9,117.0 552.9,117.0 556.8,116.9 560.8,115.8 564.8,114.9 568.8,113.7 572.8,112.5 576.8,111.8 580.8,111.2 584.8,110.7 588.7,110.7 592.7,110.3 596.7,110.1 600.7,109.5 604.7,108.8 608.7,108.4 612.7,107.8 616.7,107.2 620.6,106.6 624.6,106.4 628.6,106.0 632.6,105.8 636.6,105.6 640.6,105.2 644.6,104.9 648.5,104.6 652.5,104.3 656.5,104.2 660.5,104.5 664.5,104.8 668.5,105.1 672.5,105.7 676.5,106.5 680.4,106.9 684.4,107.9 688.4,109.1 692.4,109.2 696.4,109.8 700.4,110.5 704.4,112.1 708.4,114.1 712.3,116.0 716.3,118.0 720.3,119.2 724.3,120.1 728.3,121.2 732.3,122.3 736.3,123.7 740.2,124.8 744.2,125.4 748.2,125.7 752.2,126.2 756.2,126.9 760.2,128.5 764.2,129.9 768.2,131.6 772.1,133.2 776.1,136.3 780.1,140.9 784.1,145.6 788.1,150.2 792.1,152.9 796.1,156.4 800.1,159.6 804.0,162.5 808.0,165.2 812.0,168.7 816.0,172.2 820.0,176.5 824.0,179.8 828.0,183.0 831.9,185.7 835.9,188.1 839.9,190.9 843.9,193.4 847.9,196.0 851.9,198.5 855.9,200.6 859.9,202.3 863.8,204.0 867.8,205.5 871.8,206.9 875.8,207.8" fill="none" stroke="#1f2e9c" stroke-width="1.4"/>
<clipPath id="c70"><rect x="17" y="432" width="867" height="42.2"/></clipPath>
<clipPath id="c30"><rect x="17" y="517.8" width="867" height="41.2"/></clipPath>
<polygon points="18.6,474.2 18.6,478.5 22.6,474.1 26.6,471.0 30.6,468.0 34.5,467.4 38.5,466.9 42.5,462.3 46.5,475.6 50.5,472.5 54.5,471.0 58.5,467.9 62.5,484.5 66.4,491.5 70.4,497.1 74.4,489.8 78.4,491.0 82.4,505.7 86.4,508.1 90.4,500.7 94.4,500.1 98.3,502.9 102.3,493.3 106.3,500.7 110.3,508.5 114.3,517.5 118.3,512.1 122.3,514.2 126.2,503.4 130.2,501.4 134.2,501.4 138.2,494.3 142.2,492.8 146.2,486.9 150.2,486.2 154.2,482.8 158.1,483.9 162.1,482.4 166.1,487.6 170.1,483.2 174.1,485.1 178.1,484.4 182.1,488.1 186.1,488.1 190.0,483.5 194.0,495.8 198.0,496.6 202.0,498.1 206.0,505.9 210.0,499.8 214.0,497.5 217.9,492.5 221.9,489.2 225.9,486.9 229.9,486.3 233.9,486.2 237.9,488.2 241.9,480.6 245.9,482.0 249.8,480.7 253.8,479.6 257.8,481.2 261.8,479.2 265.8,480.4 269.8,478.2 273.8,486.7 277.8,486.6 281.7,488.1 285.7,482.6 289.7,490.8 293.7,485.1 297.7,481.4 301.7,483.2 305.7,480.0 309.7,476.4 313.6,483.2 317.6,480.8 321.6,481.0 325.6,478.9 329.6,480.7 333.6,481.2 337.6,490.2 341.5,488.7 345.5,489.0 349.5,487.0 353.5,485.7 357.5,489.4 361.5,505.1 365.5,501.5 369.5,503.5 373.4,493.7 377.4,480.0 381.4,477.0 385.4,475.5 389.4,475.1 393.4,477.8 397.4,477.7 401.4,483.4 405.3,493.8 409.3,491.3 413.3,488.9 417.3,488.9 421.3,485.6 425.3,483.5 429.3,481.7 433.2,478.5 437.2,482.4 441.2,479.1 445.2,477.8 449.2,477.5 453.2,474.1 457.2,476.5 461.2,475.0 465.1,482.6 469.1,485.9 473.1,480.3 477.1,486.1 481.1,486.2 485.1,483.3 489.1,487.7 493.1,509.6 497.0,510.0 501.0,501.4 505.0,496.4 509.0,489.8 513.0,490.1 517.0,497.6 521.0,503.5 524.9,505.7 528.9,506.8 532.9,498.2 536.9,494.8 540.9,501.2 544.9,500.2 548.9,507.8 552.9,506.8 556.8,505.9 560.8,494.5 564.8,495.7 568.8,490.3 572.8,486.0 576.8,483.2 580.8,480.9 584.8,483.1 588.7,492.9 592.7,488.3 596.7,491.3 600.7,488.6 604.7,491.8 608.7,496.4 612.7,492.4 616.7,490.3 620.6,488.3 624.6,494.6 628.6,490.8 632.6,490.6 636.6,492.6 640.6,486.6 644.6,486.6 648.5,485.2 652.5,483.8 656.5,487.8 660.5,500.3 664.5,503.2 668.5,505.8 672.5,505.7 676.5,513.6 680.4,502.2 684.4,510.0 688.4,514.3 692.4,507.5 696.4,513.5 700.4,510.4 704.4,517.9 708.4,519.6 712.3,516.9 716.3,520.1 720.3,509.4 724.3,506.5 728.3,509.7 732.3,504.7 736.3,505.5 740.2,505.1 744.2,497.0 748.2,496.3 752.2,501.0 756.2,502.3 760.2,509.2 764.2,506.4 768.2,504.5 772.1,501.2 776.1,515.7 780.1,525.2 784.1,525.4 788.1,527.2 792.1,500.3 796.1,506.2 800.1,502.3 804.0,500.6 808.0,500.9 812.0,505.1 816.0,504.8 820.0,509.0 824.0,502.7 828.0,498.8 831.9,494.3 835.9,492.7 839.9,492.6 843.9,491.2 847.9,490.8 851.9,489.2 855.9,485.5 859.9,487.8 863.8,490.5 867.8,489.3 871.8,487.6 875.8,487.9 875.8,474.2" fill="#6e9a6e" clip-path="url(#c70)"/>
<polygon points="18.6,517.8 18.6,478.5 22.6,474.1 26.6,471.0 30.6,468.0 34.5,467.4 38.5,466.9 42.5,462.3 46.5,475.6 50.5,472.5 54.5,471.0 58.5,467.9 62.5,484.5 66.4,491.5 70.4,497.1 74.4,489.8 78.4,491.0 82.4,505.7 86.4,508.1 90.4,500.7 94.4,500.1 98.3,502.9 102.3,493.3 106.3,500.7 110.3,508.5 114.3,517.5 118.3,512.1 122.3,514.2 126.2,503.4 130.2,501.4 134.2,501.4 138.2,494.3 142.2,492.8 146.2,486.9 150.2,486.2 154.2,482.8 158.1,483.9 162.1,482.4 166.1,487.6 170.1,483.2 174.1,485.1 178.1,484.4 182.1,488.1 186.1,488.1 190.0,483.5 194.0,495.8 198.0,496.6 202.0,498.1 206.0,505.9 210.0,499.8 214.0,497.5 217.9,492.5 221.9,489.2 225.9,486.9 229.9,486.3 233.9,486.2 237.9,488.2 241.9,480.6 245.9,482.0 249.8,480.7 253.8,479.6 257.8,481.2 261.8,479.2 265.8,480.4 269.8,478.2 273.8,486.7 277.8,486.6 281.7,488.1 285.7,482.6 289.7,490.8 293.7,485.1 297.7,481.4 301.7,483.2 305.7,480.0 309.7,476.4 313.6,483.2 317.6,480.8 321.6,481.0 325.6,478.9 329.6,480.7 333.6,481.2 337.6,490.2 341.5,488.7 345.5,489.0 349.5,487.0 353.5,485.7 357.5,489.4 361.5,505.1 365.5,501.5 369.5,503.5 373.4,493.7 377.4,480.0 381.4,477.0 385.4,475.5 389.4,475.1 393.4,477.8 397.4,477.7 401.4,483.4 405.3,493.8 409.3,491.3 413.3,488.9 417.3,488.9 421.3,485.6 425.3,483.5 429.3,481.7 433.2,478.5 437.2,482.4 441.2,479.1 445.2,477.8 449.2,477.5 453.2,474.1 457.2,476.5 461.2,475.0 465.1,482.6 469.1,485.9 473.1,480.3 477.1,486.1 481.1,486.2 485.1,483.3 489.1,487.7 493.1,509.6 497.0,510.0 501.0,501.4 505.0,496.4 509.0,489.8 513.0,490.1 517.0,497.6 521.0,503.5 524.9,505.7 528.9,506.8 532.9,498.2 536.9,494.8 540.9,501.2 544.9,500.2 548.9,507.8 552.9,506.8 556.8,505.9 560.8,494.5 564.8,495.7 568.8,490.3 572.8,486.0 576.8,483.2 580.8,480.9 584.8,483.1 588.7,492.9 592.7,488.3 596.7,491.3 600.7,488.6 604.7,491.8 608.7,496.4 612.7,492.4 616.7,490.3 620.6,488.3 624.6,494.6 628.6,490.8 632.6,490.6 636.6,492.6 640.6,486.6 644.6,486.6 648.5,485.2 652.5,483.8 656.5,487.8 660.5,500.3 664.5,503.2 668.5,505.8 672.5,505.7 676.5,513.6 680.4,502.2 684.4,510.0 688.4,514.3 692.4,507.5 696.4,513.5 700.4,510.4 704.4,517.9 708.4,519.6 712.3,516.9 716.3,520.1 720.3,509.4 724.3,506.5 728.3,509.7 732.3,504.7 736.3,505.5 740.2,505.1 744.2,497.0 748.2,496.3 752.2,501.0 756.2,502.3 760.2,509.2 764.2,506.4 768.2,504.5 772.1,501.2 776.1,515.7 780.1,525.2 784.1,525.4 788.1,527.2 792.1,500.3 796.1,506.2 800.1,502.3 804.0,500.6 808.0,500.9 812.0,505.1 816.0,504.8 820.0,509.0 824.0,502.7 828.0,498.8 831.9,494.3 835.9,492.7 839.9,492.6 843.9,491.2 847.9,490.8 851.9,489.2 855.9,485.5 859.9,487.8 863.8,490.5 867.8,489.3 871.8,487.6 875.8,487.9 875.8,517.8" fill="#9c6262" clip-path="url(#c30)"/>
<line x1="17" y1="474.5" x2="884" y2="474.5" stroke="#5a5a5a" stroke-width="1.25"/>
<line x1="17" y1="517.5" x2="884" y2="517.5" stroke="#5a5a5a" stroke-width="1.25"/>
<polyline points="18.6,478.5 22.6,474.1 26.6,471.0 30.6,468.0 34.5,467.4 38.5,466.9 42.5,462.3 46.5,475.6 50.5,472.5 54.5,471.0 58.5,467.9 62.5,484.5 66.4,491.5 70.4,497.1 74.4,489.8 78.4,491.0 82.4,505.7 86.4,508.1 90.4,500.7 94.4,500.1 98.3,502.9 102.3,493.3 106.3,500.7 110.3,508.5 114.3,517.5 118.3,512.1 122.3,514.2 126.2,503.4 130.2,501.4 134.2,501.4 138.2,494.3 142.2,492.8 146.2,486.9 150.2,486.2 154.2,482.8 158.1,483.9 162.1,482.4 166.1,487.6 170.1,483.2 174.1,485.1 178.1,484.4 182.1,488.1 186.1,488.1 190.0,483.5 194.0,495.8 198.0,496.6 202.0,498.1 206.0,505.9 210.0,499.8 214.0,497.5 217.9,492.5 221.9,489.2 225.9,486.9 229.9,486.3 233.9,486.2 237.9,488.2 241.9,480.6 245.9,482.0 249.8,480.7 253.8,479.6 257.8,481.2 261.8,479.2 265.8,480.4 269.8,478.2 273.8,486.7 277.8,486.6 281.7,488.1 285.7,482.6 289.7,490.8 293.7,485.1 297.7,481.4 301.7,483.2 305.7,480.0 309.7,476.4 313.6,483.2 317.6,480.8 321.6,481.0 325.6,478.9 329.6,480.7 333.6,481.2 337.6,490.2 341.5,488.7 345.5,489.0 349.5,487.0 353.5,485.7 357.5,489.4 361.5,505.1 365.5,501.5 369.5,503.5 373.4,493.7 377.4,480.0 381.4,477.0 385.4,475.5 389.4,475.1 393.4,477.8 397.4,477.7 401.4,483.4 405.3,493.8 409.3,491.3 413.3,488.9 417.3,488.9 421.3,485.6 425.3,483.5 429.3,481.7 433.2,478.5 437.2,482.4 441.2,479.1 445.2,477.8 449.2,477.5 453.2,474.1 457.2,476.5 461.2,475.0 465.1,482.6 469.1,485.9 473.1,480.3 477.1,486.1 481.1,486.2 485.1,483.3 489.1,487.7 493.1,509.6 497.0,510.0 501.0,501.4 505.0,496.4 509.0,489.8 513.0,490.1 517.0,497.6 521.0,503.5 524.9,505.7 528.9,506.8 532.9,498.2 536.9,494.8 540.9,501.2 544.9,500.2 548.9,507.8 552.9,506.8 556.8,505.9 560.8,494.5 564.8,495.7 568.8,490.3 572.8,486.0 576.8,483.2 580.8,480.9 584.8,483.1 588.7,492.9 592.7,488.3 596.7,491.3 600.7,488.6 604.7,491.8 608.7,496.4 612.7,492.4 616.7,490.3 620.6,488.3 624.6,494.6 628.6,490.8 632.6,490.6 636.6,492.6 640.6,486.6 644.6,486.6 648.5,485.2 652.5,483.8 656.5,487.8 660.5,500.3 664.5,503.2 668.5,505.8 672.5,505.7 676.5,513.6 680.4,502.2 684.4,510.0 688.4,514.3 692.4,507.5 696.4,513.5 700.4,510.4 704.4,517.9 708.4,519.6 712.3,516.9 716.3,520.1 720.3,509.4 724.3,506.5 728.3,509.7 732.3,504.7 736.3,505.5 740.2,505.1 744.2,497.0 748.2,496.3 752.2,501.0 756.2,502.3 760.2,509.2 764.2,506.4 768.2,504.5 772.1,501.2 776.1,515.7 780.1,525.2 784.1,525.4 788.1,527.2 792.1,500.3 796.1,506.2 800.1,502.3 804.0,500.6 808.0,500.9 812.0,505.1 816.0,504.8 820.0,509.0 824.0,502.7 828.0,498.8 831.9,494.3 835.9,492.7 839.9,492.6 843.9,491.2 847.9,490.8 851.9,489.2 855.9,485.5 859.9,487.8 863.8,490.5 867.8,489.3 871.8,487.6 875.8,487.9" fill="none" stroke="#222" stroke-width="1.5"/>
<rect x="32.6" y="159.1" width="49.3" height="14" fill="#fff" stroke="#d4d4d4" stroke-width="1"/>
<polygon points="51.5,173.1 58.5,179.2 65.5,173.1" fill="#fff" stroke="#d4d4d4" stroke-width="1"/>
<line x1="52.2" y1="173.1" x2="64.8" y2="173.1" stroke="#fff" stroke-width="1.6"/>
<text x="35.1" y="170.4" font-family="Liberation Sans" font-size="12.5" font-weight="normal" fill="#111" text-anchor="start" textLength="44" lengthAdjust="spacingAndGlyphs" >5669.67</text>
<rect x="88.4" y="322.0" width="49.3" height="14" fill="#fff" stroke="#d4d4d4" stroke-width="1"/>
<polygon points="107.3,322.0 114.3,315.0 121.3,322.0" fill="#fff" stroke="#d4d4d4" stroke-width="1"/>
<line x1="108.0" y1="322.0" x2="120.6" y2="322.0" stroke="#fff" stroke-width="1.6"/>
<text x="90.9" y="333.3" font-family="Liberation Sans" font-size="12.5" font-weight="normal" fill="#111" text-anchor="start" textLength="44" lengthAdjust="spacingAndGlyphs" >5119.26</text>
<rect x="435.3" y="63.8" width="49.3" height="14" fill="#fff" stroke="#d4d4d4" stroke-width="1"/>
<polygon points="454.2,77.8 461.2,83.9 468.2,77.8" fill="#fff" stroke="#d4d4d4" stroke-width="1"/>
<line x1="454.9" y1="77.8" x2="467.5" y2="77.8" stroke="#fff" stroke-width="1.6"/>
<text x="437.8" y="75.1" font-family="Liberation Sans" font-size="12.5" font-weight="normal" fill="#111" text-anchor="start" textLength="44" lengthAdjust="spacingAndGlyphs" >6099.97</text>
<rect x="527.0" y="165.3" width="49.3" height="14" fill="#fff" stroke="#d4d4d4" stroke-width="1"/>
<polygon points="545.9,165.3 552.9,158.3 559.9,165.3" fill="#fff" stroke="#d4d4d4" stroke-width="1"/>
<line x1="546.6" y1="165.3" x2="559.2" y2="165.3" stroke="#fff" stroke-width="1.6"/>
<text x="529.5" y="176.6" font-family="Liberation Sans" font-size="12.5" font-weight="normal" fill="#111" text-anchor="start" textLength="44" lengthAdjust="spacingAndGlyphs" >5773.31</text>
<rect x="626.7" y="53.7" width="49.3" height="14" fill="#fff" stroke="#d4d4d4" stroke-width="1"/>
<polygon points="645.5,67.7 652.5,73.8 659.5,67.7" fill="#fff" stroke="#d4d4d4" stroke-width="1"/>
<line x1="646.2" y1="67.7" x2="658.8" y2="67.7" stroke="#fff" stroke-width="1.6"/>
<text x="629.2" y="65.0" font-family="Liberation Sans" font-size="12.5" font-weight="normal" fill="#111" text-anchor="start" textLength="44" lengthAdjust="spacingAndGlyphs" >6147.43</text>
<rect x="722.4" y="132.4" width="49.3" height="14" fill="#fff" stroke="#d4d4d4" stroke-width="1"/>
<polygon points="741.2,146.4 748.2,152.5 755.2,146.4" fill="#fff" stroke="#d4d4d4" stroke-width="1"/>
<line x1="741.9" y1="146.4" x2="754.5" y2="146.4" stroke="#fff" stroke-width="1.6"/>
<text x="724.9" y="143.7" font-family="Liberation Sans" font-size="12.5" font-weight="normal" fill="#111" text-anchor="start" textLength="44" lengthAdjust="spacingAndGlyphs" >5786.95</text>
<rect x="690.5" y="227.4" width="49.3" height="14" fill="#fff" stroke="#d4d4d4" stroke-width="1"/>
<polygon points="709.3,227.4 716.3,220.4 723.3,227.4" fill="#fff" stroke="#d4d4d4" stroke-width="1"/>
<line x1="710.0" y1="227.4" x2="722.6" y2="227.4" stroke="#fff" stroke-width="1.6"/>
<text x="693.0" y="238.7" font-family="Liberation Sans" font-size="12.5" font-weight="normal" fill="#111" text-anchor="start" textLength="44" lengthAdjust="spacingAndGlyphs" >5504.65</text>
<rect x="778.2" y="208.4" width="49.3" height="14" fill="#fff" stroke="#d4d4d4" stroke-width="1"/>
<polygon points="797.0,222.4 804.0,228.5 811.0,222.4" fill="#fff" stroke="#d4d4d4" stroke-width="1"/>
<line x1="797.7" y1="222.4" x2="810.3" y2="222.4" stroke="#fff" stroke-width="1.6"/>
<text x="780.7" y="219.7" font-family="Liberation Sans" font-size="12.5" font-weight="normal" fill="#111" text-anchor="start" textLength="44" lengthAdjust="spacingAndGlyphs" >5459.46</text>
<rect x="758.3" y="396.4" width="49.3" height="14" fill="#fff" stroke="#d4d4d4" stroke-width="1"/>
<polygon points="777.1,396.4 784.1,389.4 791.1,396.4" fill="#fff" stroke="#d4d4d4" stroke-width="1"/>
<line x1="777.8" y1="396.4" x2="790.4" y2="396.4" stroke="#fff" stroke-width="1.6"/>
<text x="760.8" y="407.7" font-family="Liberation Sans" font-size="12.5" font-weight="normal" fill="#111" text-anchor="start" textLength="44" lengthAdjust="spacingAndGlyphs" >4835.04</text>
<rect x="794.1" y="326.5" width="49.3" height="14" fill="#fff" stroke="#d4d4d4" stroke-width="1"/>
<polygon points="813.0,326.5 820.0,319.5 827.0,326.5" fill="#fff" stroke="#d4d4d4" stroke-width="1"/>
<line x1="813.7" y1="326.5" x2="826.3" y2="326.5" stroke="#fff" stroke-width="1.6"/>
<text x="796.6" y="337.8" font-family="Liberation Sans" font-size="12.5" font-weight="normal" fill="#111" text-anchor="start" textLength="44" lengthAdjust="spacingAndGlyphs" >5101.63</text>
<rect x="846.0" y="147.6" width="49.3" height="14" fill="#fff" stroke="#d4d4d4" stroke-width="1"/>
<polygon points="864.8,161.6 871.8,167.7 878.8,161.6" fill="#fff" stroke="#d4d4d4" stroke-width="1"/>
<line x1="865.5" y1="161.6" x2="878.1" y2="161.6" stroke="#fff" stroke-width="1.6"/>
<text x="848.5" y="158.9" font-family="Liberation Sans" font-size="12.5" font-weight="normal" fill="#111" text-anchor="start" textLength="44" lengthAdjust="spacingAndGlyphs" >5720.10</text>
<rect x="18" y="49" width="179" height="16" fill="#fff"/>
<rect x="18" y="65" width="111" height="14.5" fill="#fff"/>
<rect x="18" y="79.5" width="117" height="14.5" fill="#fff"/>
<rect x="18" y="94" width="119" height="18" fill="#fff"/>
<text x="38" y="62.8" font-family="Liberation Sans" font-size="13" font-weight="normal" fill="#111" text-anchor="start" textLength="158.2" lengthAdjust="spacingAndGlyphs" letter-spacing="0.9">$SPX (Daily) 5659.91</text>
<rect x="20" y="70.7" width="12" height="3" fill="#0a1a96"/>
<text x="35" y="77.5" font-family="Liberation Sans" font-size="13" font-weight="normal" fill="#0a1a96" text-anchor="start" textLength="93.2" lengthAdjust="spacingAndGlyphs" >MA(50) 5551.62</text>
<rect x="20" y="86" width="12" height="3" fill="#d6123c"/>
<text x="35" y="92.1" font-family="Liberation Sans" font-size="13" font-weight="normal" fill="#d6123c" text-anchor="start" textLength="99.4" lengthAdjust="spacingAndGlyphs" >MA(200) 5748.28</text>
<rect x="20" y="100" width="12" height="3" fill="#ff22ff"/>
<text x="35" y="106.8" font-family="Liberation Sans" font-size="13" font-weight="normal" fill="#ff22ff" text-anchor="start" textLength="101" lengthAdjust="spacingAndGlyphs" >MA(400) 5355.94</text>
<g fill="#000"><rect x="24" y="55.8" width="5.5" height="5.2"/><rect x="25.9" y="60" width="1.2" height="2.5"/><rect x="21.9" y="52.2" width="1.2" height="9.3"/><rect x="21" y="54.2" width="2.6" height="4" fill="#fff" stroke="#000" stroke-width="1.2"/><rect x="30" y="52.2" width="1.2" height="10.3"/><rect x="29.6" y="54.2" width="2.4" height="6" fill="#fff" stroke="#000" stroke-width="1.2"/></g>
<rect x="18" y="433" width="127" height="17" fill="#fff"/>
<polygon points="20.8,446.6 20.8,443 22.3,440.5 23.5,437.8 25,436.5 26.4,434.6 27.3,438.5 29,441 30.2,443.2 31.8,439.2 31.8,446.6" fill="#8db48d"/><polyline points="20.8,446.6 20.8,443 22.3,440.5 23.5,437.8 25,436.5 26.4,434.6 27.3,438.5 29,441 30.2,443.2 31.8,439.2 31.8,446.6" fill="none" stroke="#000" stroke-width="1.3"/>
<text x="37.6" y="446.8" font-family="Liberation Sans" font-size="13" font-weight="normal" fill="#111" text-anchor="start" textLength="106.4" lengthAdjust="spacingAndGlyphs" letter-spacing="0.9">RSI(14) 57.47</text>
<text x="17.3" y="28.6" font-family="Liberation Sans" font-size="18.5" font-weight="bold" fill="#111" text-anchor="start" textLength="44.2" lengthAdjust="spacingAndGlyphs" >$SPX</text>
<text x="67.6" y="28.6" font-family="Liberation Sans" font-size="15.2" font-weight="normal" fill="#111" text-anchor="start" textLength="165.4" lengthAdjust="spacingAndGlyphs" >S&amp;P 500 Large Cap Index</text>
<text x="240.6" y="27.6" font-family="Liberation Sans" font-size="12.8" font-weight="normal" fill="#111" text-anchor="start" textLength="31.8" lengthAdjust="spacingAndGlyphs" >INDX</text>
<text x="16.3" y="45" font-family="Liberation Sans" font-size="12" font-weight="normal" fill="#111" text-anchor="start" textLength="74" lengthAdjust="spacingAndGlyphs" >9-May-2025</text>
<text x="763" y="27.9" font-family="Liberation Sans" font-size="14" font-weight="normal" fill="#555" text-anchor="start" textLength="10.3" lengthAdjust="spacingAndGlyphs" >©</text>
<text x="776.3" y="27.9" font-family="Liberation Sans" font-size="15" font-weight="normal" fill="#555" text-anchor="start" textLength="107.7" lengthAdjust="spacingAndGlyphs" >StockCharts.com</text>
<text x="238.4" y="44.4" font-family="Liberation Sans" font-size="14.2" font-weight="bold" fill="#000" text-anchor="start" textLength="38.5" lengthAdjust="spacingAndGlyphs" >Open</text>
<text x="281.9" y="44.4" font-family="Liberation Sans" font-size="12.2" font-weight="normal" fill="#222" text-anchor="start" textLength="52.0" lengthAdjust="spacingAndGlyphs" >5679.65</text>
<text x="342.6" y="44.4" font-family="Liberation Sans" font-size="14.2" font-weight="bold" fill="#000" text-anchor="start" textLength="31.4" lengthAdjust="spacingAndGlyphs" >High</text>
<text x="379" y="44.4" font-family="Liberation Sans" font-size="12.2" font-weight="normal" fill="#222" text-anchor="start" textLength="52" lengthAdjust="spacingAndGlyphs" >5691.69</text>
<text x="440.3" y="44.4" font-family="Liberation Sans" font-size="14.2" font-weight="bold" fill="#000" text-anchor="start" textLength="31.0" lengthAdjust="spacingAndGlyphs" >Low</text>
<text x="476.3" y="44.4" font-family="Liberation Sans" font-size="12.2" font-weight="normal" fill="#222" text-anchor="start" textLength="52.7" lengthAdjust="spacingAndGlyphs" >5644.15</text>
<text x="538.6" y="44.4" font-family="Liberation Sans" font-size="14.2" font-weight="bold" fill="#000" text-anchor="start" textLength="41.3" lengthAdjust="spacingAndGlyphs" >Close</text>
<text x="585.2" y="44.4" font-family="Liberation Sans" font-size="12.2" font-weight="normal" fill="#222" text-anchor="start" textLength="51.6" lengthAdjust="spacingAndGlyphs" >5659.91</text>
<text x="646.4" y="44.4" font-family="Liberation Sans" font-size="14.2" font-weight="bold" fill="#000" text-anchor="start" textLength="55.6" lengthAdjust="spacingAndGlyphs" >Volume</text>
<text x="708" y="44.4" font-family="Liberation Sans" font-size="12.2" font-weight="normal" fill="#222" text-anchor="start" textLength="28.8" lengthAdjust="spacingAndGlyphs" >2.4B</text>
<text x="746.7" y="44.4" font-family="Liberation Sans" font-size="14.2" font-weight="bold" fill="#000" text-anchor="start" textLength="28.8" lengthAdjust="spacingAndGlyphs" >Chg</text>
<text x="780.5" y="44.4" font-family="Liberation Sans" font-size="12.2" font-weight="normal" fill="#222" text-anchor="start" textLength="90.1" lengthAdjust="spacingAndGlyphs" >-4.03 (-0.07%)</text>
<polygon points="874,39 884,39 879,44" fill="#a0102e"/>
<rect x="17.5" y="48.5" width="867" height="365" fill="none" stroke="#c4c4c4"/>
<rect x="17.5" y="432.5" width="867" height="127" fill="none" stroke="#c4c4c4"/>
<polygon points="881.5,161.2 886.5,153.9 943.5,153.9 943.5,168.5 886.5,168.5" fill="#fff" stroke="#d6123c" stroke-width="1.6"/><text x="888" y="165.79999999999998" font-family="Liberation Sans" font-size="13" font-weight="normal" fill="#000" text-anchor="start" textLength="51.5" lengthAdjust="spacingAndGlyphs" >5748.28</text>
<polygon points="881.5,182.0 886.5,174.4 943.5,174.4 943.5,189.6 886.5,189.6" fill="#fff" stroke="#000" stroke-width="2"/><text x="888" y="186.6" font-family="Liberation Sans" font-size="13.5" font-weight="bold" fill="#000" text-anchor="start" textLength="51.5" lengthAdjust="spacingAndGlyphs" >5659.91</text>
<polygon points="881.5,207.3 886.5,200.0 943.5,200.0 943.5,214.6 886.5,214.6" fill="#fff" stroke="#0a1a96" stroke-width="1.6"/><text x="888" y="211.9" font-family="Liberation Sans" font-size="13" font-weight="normal" fill="#000" text-anchor="start" textLength="51.5" lengthAdjust="spacingAndGlyphs" >5551.62</text>
<polygon points="881.5,253.4 886.5,246.1 943.5,246.1 943.5,260.7 886.5,260.7" fill="#fff" stroke="#ff22ff" stroke-width="1.6"/><text x="888" y="258.0" font-family="Liberation Sans" font-size="13" font-weight="normal" fill="#000" text-anchor="start" textLength="51.5" lengthAdjust="spacingAndGlyphs" >5355.94</text>
<polygon points="881.5,488 886.5,480.8 927,480.8 927,495.2 886.5,495.2" fill="#fff" stroke="#000" stroke-width="1.3"/>
<text x="888.5" y="492.6" font-family="Liberation Sans" font-size="12.6" font-weight="normal" fill="#000" text-anchor="start" textLength="37" lengthAdjust="spacingAndGlyphs" >57.47</text>
</svg>
</body></html>
